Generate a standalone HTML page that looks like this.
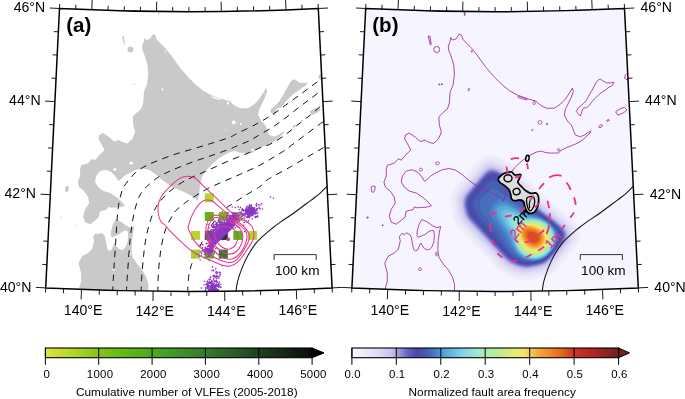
<!DOCTYPE html>
<html lang="en"><head><meta charset="utf-8"><title>Figure</title>
<style>html,body{margin:0;padding:0;background:#fff}svg{display:block}</style></head>
<body>
<svg width="685" height="399" viewBox="0 0 685 399" font-family="'Liberation Sans', Arial, Helvetica, sans-serif">
<defs>
<clipPath id="cl"><path d="M59.5 8.5 A2622.3 2622.3 0 0 0 318.3 8.5 L332.1 287.9 A2902 2902 0 0 1 45.7 287.9 Z"/></clipPath>
<clipPath id="cr"><path d="M365.7 8.5 A2622.3 2622.3 0 0 0 624.5 8.5 L638.3 287.9 A2902 2902 0 0 1 351.9 287.9 Z"/></clipPath>

<linearGradient id="g1" x1="0" x2="1" y1="0" y2="0">
<stop offset="0" stop-color="#dde340"/><stop offset="0.1" stop-color="#b4d62a"/><stop offset="0.2" stop-color="#84c516"/>
<stop offset="0.3" stop-color="#5fb912"/><stop offset="0.4" stop-color="#4aab1c"/><stop offset="0.5" stop-color="#3f932a"/>
<stop offset="0.6" stop-color="#367a2c"/><stop offset="0.7" stop-color="#2c5f28"/><stop offset="0.8" stop-color="#213f1f"/>
<stop offset="0.9" stop-color="#162516"/><stop offset="1" stop-color="#0a0d0a"/>
</linearGradient>
<linearGradient id="g2" x1="0" x2="1" y1="0" y2="0">
<stop offset="0" stop-color="#faf8ff"/>
<stop offset="0.0833" stop-color="#e4e0f7"/>
<stop offset="0.15" stop-color="#c6c2ed"/>
<stop offset="0.1833" stop-color="#8e8ed5"/>
<stop offset="0.2083" stop-color="#6666c0"/>
<stop offset="0.2417" stop-color="#4848a8"/>
<stop offset="0.2667" stop-color="#4652ae"/>
<stop offset="0.3" stop-color="#486ebe"/>
<stop offset="0.3333" stop-color="#4e96d0"/>
<stop offset="0.3667" stop-color="#60b4de"/>
<stop offset="0.4167" stop-color="#84d4e6"/>
<stop offset="0.4667" stop-color="#9ee6d4"/>
<stop offset="0.5" stop-color="#a8ecb4"/>
<stop offset="0.55" stop-color="#beec8c"/>
<stop offset="0.6" stop-color="#deec78"/>
<stop offset="0.6417" stop-color="#f5e870"/>
<stop offset="0.6667" stop-color="#f5ce54"/>
<stop offset="0.7" stop-color="#f3aa38"/>
<stop offset="0.75" stop-color="#f08228"/>
<stop offset="0.8" stop-color="#e15a22"/>
<stop offset="0.8333" stop-color="#cd3322"/>
<stop offset="0.9167" stop-color="#a62424"/>
<stop offset="1" stop-color="#6f2222"/>
</linearGradient>

</defs>
<rect width="685" height="399" fill="#fff"/>
<g clip-path="url(#cl)">
<path d="M153.2 34 L155.2 35 L156.8 39.4 L160.2 43.1 L165.2 48.1 L170.2 54.1 L175.2 61.1 L180.3 68.1 L187.3 76.2 L195.3 84.2 L203.3 90.8 L211.4 95.2 L221.4 98.8 L230.1 101.2 L234.1 105.2 L240.1 108.2 L248.1 108.2 L254.2 104.2 L259.2 99.1 L263.2 93.1 L266.2 88.1 L267.2 91.1 L265.2 97.1 L262.2 103.2 L259.2 109.2 L258.2 115 L261.2 121 L265.2 125 L267.2 130.1 L269.2 135.1 L274.3 136.8 L278.5 134.8 L282 132.4 L284.6 130.9 L283.8 133 L280 136.7 L276.5 139.8 L273.8 141.8 L269.2 144.1 L264.2 146.1 L259.2 148.1 L255.2 150.1 L252.2 153.1 L248.3 153 L244.2 153.1 L239.1 152.5 L235.1 151.1 L230.1 152.1 L224.1 155.1 L218.1 159.1 L213.1 163.2 L209.1 167.2 L205 172 L202 177 L200.5 182 L199.7 188 L199.1 195 L197.5 201.2 L196.1 199.1 L190.1 195.1 L182.1 191.1 L172.1 187.1 L162.3 180.1 L155.3 174.1 L149.3 170.1 L143.2 168.5 L136.2 169.7 L129.2 173.1 L124.2 176.1 L120.2 180.1 L118.2 181.1 L115.2 176.1 L111.2 172.1 L106.1 169.7 L100.1 171.1 L96.1 176.1 L95.1 182.1 L98.1 187.1 L103.1 191.1 L110.2 193.1 L116.2 197.1 L121.2 201.2 L125.2 205.8 L120.2 207.2 L115.2 207.4 L111 207.8 L108.2 207 L106.6 209.8 L103 210.4 L99.8 211.4 L98.8 217.2 L95 220.4 L90.1 224.2 L85.1 222.2 L83.1 216.2 L85.1 209.2 L89.1 203.2 L88.1 197.1 L84.1 191.1 L79.1 187.1 L77.7 182.1 L80.1 176.1 L80.1 169.1 L81.1 165.2 L88.1 163.2 L92.1 158.8 L95.1 160.2 L99.1 155.2 L104.5 150.2 L102.1 145.2 L98.5 139.1 L99.1 135.1 L103.1 133.1 L109.1 137.1 L114.2 141.5 L119.2 140.1 L122.2 142.1 L127.2 143.5 L132.2 139.1 L135.2 132.1 L133.2 125.1 L132.6 117.1 L136.2 113.1 L141.2 109 L143.2 103 L143.7 95 L144.1 91.2 L146.8 85.2 L148.2 75.2 L147.6 65.1 L145.2 57.1 L142.5 50.1 L142.1 46.1 L143.7 42.1 L144.7 37.4 L146.2 40 L149.6 39 L151.8 36ZM79.1 294 L79.1 288.2 L81.1 281.2 L81.1 273.2 L78.5 263.1 L82.1 256.1 L88.1 253.1 L92.1 249.1 L94.1 241.1 L93.1 236.5 L95.7 233.3 L98 234.6 L100 232.7 L103.8 234.6 L105.1 237.1 L105.7 240.8 L106.6 245.8 L107.6 249.6 L109.4 251.1 L111.6 249.8 L112.8 246.5 L114.4 243 L116.1 245.6 L118.2 248.6 L120.7 249.8 L123.2 249.6 L125.7 247.1 L127.6 242.1 L128.2 235.8 L127.6 231 L125.7 230.3 L122.6 231.5 L119.5 234.1 L115.7 235.9 L111.9 237.2 L110.7 235.8 L111.1 230.8 L112.8 224.5 L115.7 219.5 L121.3 222 L126.4 225.8 L130.7 227.7 L134.5 226.4 L133.2 232 L132 240.8 L131.6 249.6 L132.6 257.1 L137.2 264.1 L142.3 270.2 L146.3 277.2 L148.3 284.2 L148.3 294ZM307.6 82.1 L306 85.6 L302.8 87.2 L299.4 89.9 L296 92 L292.5 94.8 L289.1 98.2 L285.6 101.6 L283.4 105 L280.6 107.8 L277.6 107.8 L276.3 109.8 L275.2 113 L274.2 116 L272.3 114 L270.2 111.6 L271.5 108.6 L275.5 105.2 L279.6 101 L282.4 96.2 L285.1 91.4 L287.9 86.5 L290 82.4 L292.2 79.9 L294.3 79.2 L296.6 80.8 L300.5 82.9 L304.6 82.9ZM60.7 217 L61.9 217 L61.9 218.1 L60.7 218.1ZM75.9 224.9 L76.9 224.9 L76.9 225.8 L75.9 225.8ZM292.5 126.5 L294.5 124.8 L296.3 125.2 L295 127.3 L293 127.8ZM300.3 120.6 L302.2 119.4 L303.2 120.2 L301.3 121.3ZM122 36 L123.7 36 L125.1 44.5 L124.1 44.9ZM309.5 111.8 L313 109.3 L318 107.2 L320.8 110 L317.5 112.6 L311.8 115.2ZM318.2 78 L319.5 74.5 L321.5 73.5 L322.5 77 L321 80ZM65 187 L67 186 L69 186.5 L68.5 190 L67 192.5 L65.3 191.5ZM158 12.3 L158.9 12.6 L158.8 15.2 L158.2 15.6ZM132.6 84 L133.6 84 L133.6 84.9 L132.6 84.9ZM135.2 83.8 L136.3 83.8 L136.3 84.7 L135.2 84.7Z" fill="#c9c9c9" stroke="none" stroke-width="0" stroke-linejoin="round"/>
<circle cx="130.5" cy="49.5" r="3.0" fill="#c9c9c9" stroke="none" stroke-width="0"/>
<ellipse cx="165.6" cy="51.4" rx="0.6" ry="1.0" fill="#fff" stroke="none" stroke-width="0"/>
<ellipse cx="233.7" cy="122.4" rx="2.0" ry="1.8" fill="#fff" stroke="none" stroke-width="0"/>
<ellipse cx="240.8" cy="124" rx="0.9" ry="0.9" fill="#fff" stroke="none" stroke-width="0"/>
<ellipse cx="226.1" cy="130" rx="0.7" ry="0.6" fill="#fff" stroke="none" stroke-width="0"/>
<ellipse cx="131.2" cy="163.2" rx="2.0" ry="1.4" fill="#fff" stroke="none" stroke-width="0"/>
<ellipse cx="114.8" cy="169.6" rx="1.5" ry="1.5" fill="#fff" stroke="none" stroke-width="0"/>
<ellipse cx="113.8" cy="269.2" rx="1.4" ry="1.4" fill="#fff" stroke="none" stroke-width="0"/>
<ellipse cx="130.2" cy="254.1" rx="0.7" ry="2.2" fill="#fff" stroke="none" stroke-width="0"/>
<ellipse cx="162.6" cy="89.6" rx="0.8" ry="1.3" fill="#fff" stroke="none" stroke-width="0"/>
<ellipse cx="252.5" cy="149.8" rx="1.3" ry="1.2" fill="#fff" stroke="none" stroke-width="0"/>
<ellipse cx="228" cy="103" rx="1.2" ry="1.6" fill="#fff" stroke="none" stroke-width="0"/>
<path d="M212 96.3 L216 97.6 L221 99 L220.5 100 L215 98.7 L211.5 97.3Z" fill="#fff" stroke="none" stroke-width="0"/>
<path d="M112.6 293C112.7 290.7 113 284.4 113.3 279.3C113.6 274.2 113.9 268.2 114.3 262.2C114.7 256.2 115.2 249.4 115.6 243.1C116 236.8 116.4 229.8 116.8 224.1C117.2 218.4 117.6 213 118.1 208.8C118.6 204.6 119.1 202.2 119.8 199C120.5 195.8 121.5 192.1 122.5 189.5C123.5 186.9 124.8 185.3 126 183.5C127.2 181.7 128.4 180.4 130 178.6C131.6 176.8 133.5 174.3 135.7 172.4C137.9 170.5 140.1 169 143.3 167.2C146.5 165.4 150 163.8 154.8 161.8C159.6 159.8 165.9 157.4 171.9 155.3C177.9 153.2 184.6 151.4 191 149.5C197.4 147.6 203.8 145.7 210.1 143.7C216.4 141.7 224.4 139.4 229.1 137.6C233.8 135.8 233.4 135.3 238.1 133C242.8 130.7 251.5 126.7 257.2 123.6C262.9 120.5 267.6 117.7 272.4 114.6C277.2 111.5 281.4 108.2 285.8 105C290.2 101.8 295 98.3 299.1 95.3C303.2 92.3 307 89.5 310.6 86.8C314.2 84.1 318.3 81.3 321 79.3C323.7 77.3 326 75.7 327 75" fill="none" stroke="#111" stroke-width="1" stroke-dasharray="6.5 5.5"/>
<path d="M126.4 293C126.5 290.7 126.7 285.1 127.1 279.3C127.5 273.5 128.1 265.1 128.6 258.4C129.1 251.7 129.5 245.3 130.1 239.3C130.7 233.3 131.5 227.4 132.4 222.2C133.3 217 134.1 212.3 135.3 207.9C136.5 203.5 138.1 199 139.5 196C140.9 193 142.1 191.8 143.5 190C144.9 188.2 145.6 187.5 148.1 185.3C150.6 183.1 154.6 179.4 158.6 176.9C162.6 174.4 166.5 172.7 171.9 170.3C177.3 167.9 184.6 165 191 162.6C197.4 160.2 203.8 158.2 210.1 156C216.4 153.8 224.4 151.1 229.1 149.3C233.8 147.5 234.9 146.7 238.1 145.4C241.3 144.1 245 142.8 248.2 141.3C251.4 139.8 253.2 138.5 257.2 136.2C261.2 133.8 267.6 130.3 272.4 127.2C277.2 124.1 281.4 121 285.8 117.7C290.2 114.4 295 110.4 299.1 107.2C303.2 104 306.8 101.5 310.6 98.6C314.4 95.7 319.1 92.2 322 90C324.9 87.8 327 86.2 328 85.5" fill="none" stroke="#111" stroke-width="1" stroke-dasharray="6.5 5.5"/>
<path d="M141.2 293C141.3 290.7 141.2 285.4 141.6 279.3C142 273.2 142.8 263.5 143.5 256.5C144.2 249.5 145 243.1 146.1 237.4C147.2 231.7 148.5 226.8 149.9 222.2C151.3 217.6 152.7 213.6 154.5 210C156.3 206.4 157.9 203.9 160.5 200.8C163.1 197.7 166.5 194.2 170 191.2C173.5 188.2 177.4 185.2 181.5 182.7C185.6 180.2 190 178.2 194.8 176C199.6 173.8 204.4 171.9 210.1 169.3C215.8 166.8 222.8 163.4 229.1 160.7C235.4 158 243 155.2 248.2 153.1C253.3 150.9 256.3 149.3 260 147.8C263.7 146.3 266.5 146 270.5 144C274.5 142 279.4 138.9 283.9 135.8C288.3 132.7 292.8 128.8 297.2 125.3C301.6 121.8 306.3 118.3 310.6 114.8C314.9 111.3 319.9 106.8 323 104.3C326.1 101.8 328 100.3 329 99.5" fill="none" stroke="#111" stroke-width="1" stroke-dasharray="6.5 5.5"/>
<path d="M158 293C158 290.7 157.8 284.8 158.1 279.3C158.3 273.9 158.8 266.3 159.5 260.3C160.2 254.3 160.9 248.3 162 243.1C163.1 237.8 164.1 233.4 165.8 228.8C167.5 224.2 170.5 218.7 172.4 215.5C174.3 212.3 174.8 211.6 177 209.5C179.2 207.4 182 205.1 185.3 202.7C188.6 200.3 192.6 197.6 196.7 195C200.8 192.4 205.3 189.8 210.1 187.4C214.9 185 220.2 182.9 225.3 180.7C230.4 178.5 234.6 176.8 240.6 174.1C246.6 171.4 254.2 168.2 261.1 164.5C268 160.8 277 155.2 282.1 152C287.2 148.8 288 147.9 291.5 145.3C295 142.8 299.1 139.6 302.9 136.7C306.7 133.8 310.9 130.7 314.4 128.1C317.9 125.5 321.5 122.9 323.9 121.1C326.3 119.3 328.1 118.1 329 117.5" fill="none" stroke="#111" stroke-width="1" stroke-dasharray="6.5 5.5"/>
<path d="M187.6 293C187.8 290.4 188.1 281.6 188.6 277.4C189.1 273.2 189.7 270.8 190.5 267.9C191.3 265 191.8 263.9 193.4 260.3C195 256.7 197.1 251.7 200 246C202.9 240.3 207.1 231.9 211 226C214.9 220.1 219.8 214 223.4 210.3C227.1 206.6 229.4 206 232.9 203.6C236.4 201.2 239.9 198.8 244.4 196C248.9 193.2 256.1 189.3 260 186.5C263.9 183.7 263.2 182.5 268.1 179.3C273 176.2 282.2 171.6 289.2 167.6C296.2 163.6 304.3 158.7 310.2 155.3C316.1 151.9 321 149.1 324.3 147.2C327.6 145.3 329.1 144.5 330 144" fill="none" stroke="#111" stroke-width="1" stroke-dasharray="6.5 5.5"/>
<path d="M235.6 294C235.7 293.5 235.7 293.1 236 291C236.3 288.9 236.7 285 237.7 281.2C238.7 277.4 240.2 272.7 241.9 268.4C243.6 264.1 245.6 259.7 247.9 255.6C250.2 251.5 252.9 247.1 255.6 243.7C258.3 240.3 261.3 237.8 264.1 235.2C266.9 232.6 269.8 230.3 272.6 228C275.4 225.7 277.6 224.1 281.1 221.6C284.7 219.1 288.9 216.6 293.9 213C298.9 209.4 306.6 203.5 310.9 200.3C315.1 197.1 316.7 196.2 319.4 193.9C322.1 191.6 325.2 188.2 327.1 186.2C329 184.2 330.4 182.7 331 182" fill="none" stroke="#111" stroke-width="1.05"/>
<rect x="204.8" y="193.3" width="9" height="9" fill="#b7d433"/>
<rect x="204.8" y="212" width="9" height="9" fill="#5db511"/>
<rect x="218.8" y="212" width="9" height="9" fill="#6fbd12"/>
<rect x="233.3" y="212" width="9" height="9" fill="#b2d232"/>
<rect x="191" y="230.9" width="9" height="9" fill="#b7d433"/>
<rect x="204.8" y="230.9" width="9" height="9" fill="#2f6e2a"/>
<rect x="218.8" y="230.9" width="9" height="9" fill="#1d3a20"/>
<rect x="233.3" y="230.9" width="9" height="9" fill="#5db511"/>
<rect x="247.9" y="230.9" width="9" height="9" fill="#b7d433"/>
<rect x="191" y="249.6" width="9" height="9" fill="#a8d02e"/>
<rect x="204.8" y="249.6" width="9" height="9" fill="#5db511"/>
<rect x="218.8" y="249.6" width="9" height="9" fill="#2f7a2a"/>
<path d="M220 235.7h0M220.9 236.3h0M217.7 240.1h0M227.3 229.4h0M227.6 230.5h0M224.6 233.8h0M212.8 242.4h0M223.9 232h0M210.6 240.3h0M217 238.9h0M224.7 234.8h0M223.4 231.4h0M223.3 233.4h0M213.3 232.7h0M221.5 229h0M217.3 236.5h0M221.1 237.7h0M225.5 232.4h0M217.3 234.8h0M215.9 234.1h0M218.2 239.4h0M219.7 228.4h0M218.5 231h0M212.2 245.4h0M219.6 233.7h0M225.6 233.9h0M212.7 240.2h0M223 229.4h0M229.2 228.1h0M218.9 230.7h0M224 231.1h0M216.1 233.6h0M216.3 239h0M222 222h0M215 242.6h0M228.4 227.2h0M207.7 239.5h0M222.3 231.8h0M213.8 237.9h0M228.3 230.6h0M222.9 233.6h0M229.8 227.2h0M223.8 231.8h0M210.4 238.9h0M226.1 229.7h0M211.7 244.4h0M220.6 225.1h0M218.4 233.3h0M210.4 236.3h0M225.5 233.2h0M222.4 232.3h0M219.5 231.3h0M218.3 238h0M228.5 231.4h0M215.2 236.9h0M229 227.6h0M215.8 242.6h0M221.4 236h0M226.4 225.6h0M224.8 225.3h0M216.9 237.7h0M225.7 227.6h0M224.5 234.3h0M221.8 233.4h0M221.3 236.2h0M226.2 233.7h0M225 230.5h0M232.6 225.9h0M219.7 237.1h0M219.6 232.8h0M220.1 236.6h0M226.6 221.3h0M216.6 240.9h0M224.4 233.6h0M218.6 235.9h0M222.7 233h0M234.7 223.8h0M220.1 238.8h0M221.9 237.3h0M208.2 248.4h0M223.9 226.9h0M219.3 233h0M221.9 226.3h0M213.8 243.8h0M219.1 235.6h0M218.5 220.4h0M223.2 225.4h0M221 227.2h0M219.6 230.8h0M221.8 236.5h0M226.8 232.1h0M216.9 230.7h0M227.5 230.3h0M234.5 220.4h0M226.9 231h0M221.2 233h0M221.9 232.8h0M209.7 237.8h0M222.7 229.6h0M212.4 235.5h0M226.8 227.4h0M227.1 225.6h0M218.9 231.9h0M221 226.4h0M212.7 234.5h0M227.6 231h0M209.9 242.5h0M220.5 234.5h0M223.7 232.9h0M226.9 225.1h0M223.3 225h0M229.9 228.8h0M215.6 236h0M223.4 235.4h0M229.5 228.6h0M210.7 246.6h0M211.9 243.4h0M222.5 232.5h0M220 233.2h0M218.6 230.7h0M219 232.6h0M224.6 222.8h0M216.5 236.2h0M211.2 242.8h0M210.8 243.3h0M217 242.4h0M222.2 237.3h0M219.4 238.4h0M232.2 227.7h0M222.1 229.9h0M217.4 232.4h0M216.3 234.8h0M213.5 242.9h0M225.3 228.4h0M220.2 233.2h0M219.6 230.9h0M212.9 241.5h0M225.8 229.8h0M215.7 237.7h0M215.1 243.4h0M215.9 240.7h0M210.5 247h0M212.5 231.7h0M225.9 231.9h0M209.9 245.1h0M223 233.2h0M224.3 229.7h0M225.4 232h0M227.5 227.4h0M217.5 225.9h0M222.8 226.9h0M220 236h0M229 222.8h0M216.3 224.4h0M215.9 238.2h0M232.5 227h0M222.6 230.1h0M218.3 240.5h0M221.6 231.7h0M222.4 235.9h0M216.7 240h0M227.4 231.8h0M215.7 237.2h0M234.1 220.8h0M216.5 222.9h0M224.6 231.6h0M230.7 227.2h0M220.9 234.7h0M211 243.3h0M222.2 232.1h0M223 222.8h0M213.6 240.6h0M224.1 234.4h0M217.5 234.5h0M231.5 223.7h0M212 236.8h0M229.5 225.8h0M230.6 225.7h0M217.9 239.7h0M210.5 245h0M221 234.7h0M219.1 239.5h0M224.2 232.8h0M225.7 232.6h0M218.6 234.9h0M220.3 232.9h0M220.1 239.5h0M222.1 236.4h0M222.6 235.8h0M217.7 232.1h0M221.3 230.2h0M224.8 233.6h0M221.8 230.4h0M213.4 245.4h0M215.7 238h0M207.6 231.1h0M211.9 235.1h0M216.1 232.8h0M217.4 238.1h0M225.1 233.4h0M228.1 226.5h0M220.9 234.2h0M229.3 226.1h0M224.3 227.2h0M219.7 234.3h0M217.7 233.6h0M222.8 229.9h0M212.4 227.2h0M228.7 229.6h0M213.7 225.5h0M218.2 234.6h0M228.2 231.7h0M216.6 241.4h0M220.7 230.2h0M227.2 232.6h0M225.5 230.2h0M224.1 235.3h0M219.4 234.9h0M215.5 239h0M217.7 230.5h0M213.3 230.5h0M217.6 237.5h0M225.9 233.6h0M216.6 231.9h0M231.3 226.3h0M225.4 227.7h0M215.3 230h0M223.6 228.9h0M213.5 245.5h0M219.7 226.3h0M211.5 242.6h0M214.7 233.9h0M222.5 235.3h0M223.8 230.6h0M226.4 224.5h0M214.7 240.8h0M213.8 237.3h0M222.8 236.9h0M219.6 227.7h0M216.9 242.4h0M221.1 236.2h0M220 233.7h0M225.5 231.7h0M220.2 234.2h0M211.9 226.3h0M218.2 241.1h0M214.9 243h0M218.7 230.2h0M220.8 236.4h0M223.3 231.8h0M219.8 233.2h0M222.3 236.9h0M225.9 231.8h0M214.4 234.5h0M218.5 235.3h0M217.2 241.4h0M220.4 238.4h0M224.3 232.3h0M234.2 224.4h0M228.4 230.7h0M219.8 221.5h0M218.5 239.1h0M217.3 224.1h0M220 229.8h0M223.5 229h0M225.3 233.4h0M221.7 229.7h0M225.3 226.7h0M216.4 226.7h0M222.1 237.5h0M229.1 230.8h0M218.2 239.4h0M223.5 230.8h0M212.6 233.1h0M231.6 228.3h0M223 233.5h0M227.7 226.8h0M224.8 231.3h0M217 236.9h0M230 230h0M216.7 236.5h0M221.8 235.5h0M226.6 224.6h0M211.8 229.8h0M220.3 233.3h0M219.8 239.5h0M210.2 240.5h0M225.5 225h0M209.4 237.2h0M227.5 229h0M221.8 235.5h0M218.5 232.7h0M217.9 230.6h0M221.7 235.6h0M224.8 233.3h0M218.1 240.2h0M214.8 232.5h0M226.7 232.3h0M218.2 235.9h0M217.2 239.6h0M222.8 233h0M218.1 225.2h0M219.7 239.9h0M233 218.4h0M220 238.3h0M222.5 234.1h0M220.7 236.2h0M220.6 233.1h0M211.6 243.4h0M219.3 232.3h0M215.6 239h0M217.5 237.1h0M225.9 231.7h0M225.5 233.6h0M216 243.2h0M223.5 232.2h0M219.9 233.9h0M216.4 238.2h0M231.4 226.1h0M223.4 235.2h0M229.9 227.8h0M225.2 229.4h0M223.2 236.5h0M210.9 241.5h0M221.1 225.1h0M226.5 232.4h0M224.1 232.9h0M214.9 242.9h0M228.6 227h0M212.8 235.9h0M215.8 241h0M230.8 227.2h0M215.9 226.3h0M218 236.3h0M223.8 231.7h0M213.6 236.7h0M223.8 234.1h0M215.9 242h0M218.8 237.3h0M222.4 236.7h0M217.4 233.9h0M228.9 228.3h0M224.6 229.4h0M220.8 233.1h0M229.5 227.6h0M222.1 236.1h0M215.6 243.7h0M218.4 238.3h0M209.9 233.9h0M222.5 235.3h0M217.1 235.6h0M219.6 235.4h0M219.6 227.8h0M219.8 239.7h0M227 231.7h0M222.3 232.4h0M218.4 228.3h0M210.7 230.2h0M220 239.5h0M220.2 231.5h0M208.9 234h0M223.3 230.4h0M216.3 222.8h0M223.3 234.5h0M226.6 230.5h0M228.8 225.4h0M208.1 224.3h0M226 231.1h0M219.6 223.3h0M222.3 235.5h0M217.5 235.5h0M217.6 237h0M223.2 236.1h0M218.9 233.6h0M225.2 233.5h0M226.1 232.7h0M211.8 236.2h0M221.9 230.4h0M227.4 229.9h0M209.1 237.5h0M221.5 231.3h0M223.7 234.9h0M211.7 240h0M222.3 235.2h0M224.8 234.5h0M225.3 231.7h0M214.8 228h0M218.5 235.8h0M228.7 228.6h0M216.6 230.7h0M218.8 235.1h0M231.6 228.2h0M226.8 227.7h0M224 235.2h0M219.5 231.4h0M233.8 223.3h0M218.4 237.3h0M216 239.6h0M225.1 232.6h0M220 227.7h0M221.2 226.6h0M217.6 237.6h0M217.9 235h0M222.2 234.5h0M219.9 227.5h0M221.9 235h0M228.5 229.4h0M207.2 232.6h0M229.8 220.9h0M221.5 235h0M225.6 229.1h0M217.8 233.5h0M219.8 231.8h0M213.8 237.6h0M215.7 228.8h0M220.3 236h0M222.9 231.5h0M217.3 239.2h0M220.5 234.1h0M220.4 233.4h0M222.7 223.9h0M217.7 238.6h0M206.2 243.8h0M219.5 239.9h0M220.7 228.5h0M225.5 234.2h0M213.3 244.5h0M222.1 223.2h0M226.6 231.8h0M224 232.4h0M229 229.3h0M226.1 230.6h0M223.8 229.7h0M216 230h0M224.9 233.7h0M214.4 238.8h0M220.6 231.8h0M223.4 232.3h0M217.8 231.2h0M219.2 236.2h0M227.5 232h0M219.6 235.5h0M219.6 235.2h0M220.4 229.9h0M224.8 233.7h0M215.2 238.2h0M220.6 236.5h0M222.2 227.3h0M218.1 238.1h0M209.9 231.4h0M216.2 234h0M216.9 236.3h0M228.6 219.5h0M219.1 236.6h0M220.2 234.2h0M233.9 225.8h0M212.9 242.3h0M211.8 241.9h0M219.8 238.7h0M229.2 229.9h0M209.7 236.3h0M226.4 227.8h0M215.8 237h0M223.3 231.5h0M211 246.6h0M225 229.2h0M218.3 222.3h0M222.2 233.7h0M233.9 221.8h0M221.5 238h0M226.1 230.4h0M226.1 227.8h0M222.6 233.1h0M221.4 232.9h0M212.6 241.5h0M222.7 232.8h0M220.5 231.5h0M217.9 240.8h0M224 231.8h0M213.4 229.6h0M228.3 229.2h0M222.3 235.3h0M223 233.5h0M215.2 238.5h0M217.9 236.9h0M215 239.5h0M214.1 240.2h0M216.8 240h0M229.5 229h0M219.4 239.8h0M217.3 228.8h0M219.6 238.8h0M220.6 238.4h0M224 229.9h0M225.6 229.7h0M221.8 237.8h0M220.7 236.5h0M215.7 230.4h0M221.5 238h0M218.3 241.1h0M225.3 233.4h0M227.7 220.1h0M215.2 230.1h0M218 221h0M210.2 248.2h0M224.7 232.8h0M217.4 224.7h0M226.2 230.9h0M221.1 234h0M224.6 231.5h0M222.4 233.4h0M211.7 247.2h0M221.4 232.5h0M218.7 240.6h0M225.8 232.9h0M221.9 222.4h0M211.3 233.1h0M221.7 226.2h0M224.8 228.8h0M217.4 236.6h0M224.3 228.5h0M211.7 242.7h0M231.4 219.7h0M217 236.9h0M221.6 232.4h0M229.6 229.9h0M212.7 236.4h0M219.5 238.4h0M222 235.3h0M222.3 232.1h0M208.7 240h0M213.9 239.5h0M223 236.4h0M225.6 233.3h0M216.5 237.5h0M212.1 246.2h0M223.7 232h0M222 236.4h0M228 231.9h0M224.8 230.6h0M219.3 230.2h0M219 237.8h0M216.1 237.2h0M224.4 221.9h0M221.2 234.1h0M226.1 227.6h0M224.5 225.6h0M218.3 237.8h0M230.2 229.2h0M217.6 239.2h0M216.6 236.2h0M228.5 226.7h0M215 227.6h0M228 229.4h0M218.6 237.8h0M230 227.1h0M229.3 230h0M225.1 233.2h0M220.4 229.2h0M215.8 243.2h0M222.3 233h0M218.7 234.8h0M231.9 225.2h0M218.9 228.6h0M232.8 226.9h0M218.8 232.1h0M218.8 232.3h0M221.8 234.3h0M222.4 235.2h0M213.4 234.8h0M212.9 232.3h0M219.4 234.3h0M216.8 239.9h0M220.2 230.3h0M217.1 231.4h0M226.2 232.6h0M223.5 235.4h0M220.2 233.8h0M213.5 227.2h0M219.7 233h0M224.2 230.9h0M215.6 227h0M213.6 237h0M206.9 233.6h0M212.8 244.6h0M212.8 232h0M213.4 241.2h0M217.9 238.8h0M219.7 229.4h0M230.6 224.5h0M223.3 235.1h0M229 224.2h0M219.9 236.1h0M224.5 234.9h0M215.6 233.5h0M214.6 232.8h0M227.4 228.4h0M211.8 236.7h0M220.4 224.5h0M230.7 225.6h0M230.8 223.5h0M224.3 232.2h0M223.6 234.8h0M222.9 225.4h0M211.6 236.8h0M218.1 236.7h0M224.1 233.7h0M220.8 233.6h0M217.4 234.8h0M226.8 232.4h0M215.7 231.8h0M217.8 236.7h0M228.1 229.9h0M223.2 228h0M227.6 230.8h0M213.6 242.5h0M213.8 235.6h0M219.2 239.1h0M223.4 233.8h0M222.5 233h0M226.7 233.2h0M213.7 224.3h0M229 230.8h0M213.9 244.8h0M221.5 229.9h0M211.8 235.5h0M213.2 227.6h0M219.9 234.5h0M217.1 233.8h0M225.3 227.5h0M227.8 225.6h0M214 232.5h0M217.4 236.9h0M216.9 238.1h0M223.9 233.8h0M223.6 235.1h0M221.5 232.4h0M225.5 229.1h0M210.1 238h0M219.6 231.5h0M214.1 243.5h0M217.9 230.5h0M217.9 236.1h0M222.6 224.8h0M213.5 235h0M222.3 230.2h0M219.2 230.3h0M224.2 229.5h0M224.2 231.9h0M221.8 231.8h0M213.3 231.7h0M223.1 233h0M219.9 232.8h0M220 239h0M219.5 235.7h0M230.7 228.1h0M230.1 222.8h0M225 230.3h0M231.8 227.4h0M218.6 232.7h0M220.5 228.8h0M224.3 232.2h0M221.6 236.8h0M212 239.1h0M216.9 234h0M216.3 236.8h0M223.5 228.1h0M212.8 239.3h0M225.5 229.9h0M212.9 240.7h0M218.7 238.2h0M213.6 230h0M218.5 229.2h0M223.2 227.2h0M216.5 236.4h0M215.5 233.9h0M225.3 230h0M218.9 228.7h0M218.5 236.8h0M216.4 239.2h0M216.8 237.2h0M210 233.2h0M221.2 228.2h0M220.4 231.7h0M209.1 249.1h0M228.3 229.4h0M222.3 226h0M227.3 229.3h0M225.6 228.3h0M213.9 242.3h0M215.6 242.9h0M222.1 229.4h0M209.8 243.2h0M219.5 228.7h0M212.5 238.6h0M229.1 221.5h0M221.2 236.4h0M218.6 233.2h0M228.2 231.1h0M213.5 240.1h0M218.5 236.2h0M218.3 228.7h0M227.3 229.2h0M218.2 227.7h0M218.9 237.3h0M224.5 225.7h0M220.8 228.6h0M215.9 241.6h0M215.4 224.3h0M214.5 236.1h0M220.7 226h0M218.5 239.8h0M220.2 238.3h0M222.5 231h0M223.2 231.7h0M218.4 237h0M219.3 238.1h0M231.2 228.6h0M219.7 234.2h0M217.2 233.9h0M214.4 240.2h0M217.6 235.7h0M230.2 225.8h0M230.6 226.3h0M226.9 225.5h0M223.7 224.8h0M222.2 236.5h0M235.2 224.1h0M218.7 236h0M224.3 233h0M217.5 228.7h0M219.8 236.2h0M226.8 225.4h0M221.5 224.1h0M212.2 238.6h0M210.9 234h0M218.4 226.8h0M220.2 228.2h0M214.3 243.4h0M211.7 243.8h0M218.5 239h0M221.5 234h0M221.5 238.1h0M220.1 238.7h0M217.1 241.9h0M212.3 244.6h0M232.7 227h0M215.9 241.5h0M212 234.5h0M216.7 237.1h0M224.9 234.3h0M214.4 236.6h0M229.2 229h0M210.3 232.5h0M206.8 233.1h0M217.2 241.7h0M223.7 234.9h0M216.6 232.3h0M211.4 234.7h0M216.2 236.7h0M214 243.9h0M220.6 231h0M215.3 239.5h0M222.4 231.7h0M222.2 230.6h0M219.2 240.3h0M209.2 249.3h0M212.6 235.4h0M218.2 235.5h0M216.3 233.3h0M212.3 236.8h0M229.6 227.4h0M224.9 228.6h0M226.4 231.6h0M226.5 233.3h0M226.9 228.1h0M212.7 235.2h0M226.3 227.9h0M214.4 237.7h0M216.1 233.5h0M219.4 235.4h0M216.8 235.3h0M221.7 234.5h0M222.9 234.9h0M216.6 226h0M217.5 235.9h0M221.1 226.4h0M218.5 238.8h0M217.8 234.1h0M217.3 234.7h0M208.9 236.2h0M227.8 228.9h0M225.3 233.7h0M221 229.2h0M226 229.8h0M227.9 231.4h0M210.2 242.8h0M228.5 230.5h0M220.3 237.4h0M219 236.4h0M223.2 235.4h0M230.8 229h0M228.6 223h0M229.4 225.6h0M223.4 235.3h0M219.7 234.2h0M220.5 234.2h0M230.3 227.2h0M213.6 230.9h0M221.4 235.1h0M213.4 237.1h0M210.5 245.9h0M213 226.4h0M222.6 236.1h0M230.1 229h0M222.7 234.2h0M214.4 233.3h0M221.7 224.7h0M221.4 238.1h0M215.1 236.8h0M214 240.9h0M223.4 225.5h0M214.3 236.6h0M216.7 236.9h0M212.1 238.2h0M230.2 227h0M218.1 238.8h0M233.6 221.9h0M213.6 231.8h0M215.3 234.9h0M232.1 226.8h0M217.8 237.8h0M211.5 243.3h0M213.7 237.4h0M211.6 241.6h0M221.8 232h0M227.2 232.7h0M214.9 239.7h0M220.2 224.7h0M231.3 226.4h0M220 225.3h0M218.3 238.6h0M223.1 225.4h0M211 232.5h0M220.7 236.3h0M213.3 243.1h0M219.7 227.6h0M225.5 232.1h0M213.7 238.4h0M219.3 239.1h0M216.6 230h0M220.6 230.8h0M227.4 225.2h0M221 233.1h0M211.3 243h0M224.8 228.9h0M215.8 242.1h0M222.2 232.9h0M221.2 227.6h0M215.2 236.6h0M215.6 238.5h0M223.3 234.7h0M228.1 231.8h0M225.5 227.6h0M221.8 233.6h0M217.4 238h0M222.2 237.4h0M236.8 220.5h0M223.9 229.3h0M218.4 238.6h0M220.3 231.4h0M230.1 227.3h0M219.7 221.8h0M222.2 235.4h0M221.9 233.1h0M224.1 234.5h0M212 243.8h0M209.9 246.2h0M224.1 234.2h0M216.9 238.1h0M228.5 223.3h0M218 231.6h0M210.7 239.4h0M217.5 235.3h0M219.7 238.4h0M237 220.2h0M222.5 235.1h0M219.5 232.9h0M229.3 224.8h0M223.1 234.7h0M219.2 228.6h0M208.9 239.3h0M225.2 233.2h0M214.5 226.6h0M218.5 235.2h0M212.6 239.6h0M224.7 230.9h0M221.2 234.5h0M219.9 239.1h0M221.3 234.1h0M222.4 236.3h0M220.1 234.5h0M233.3 224.4h0M216.6 225.1h0M224.4 223.4h0M223.6 229.8h0M229.7 224.1h0M222.6 228h0M217.8 239.6h0M221.9 229.9h0M219.8 236.7h0M222.3 234.9h0M217.1 232.9h0M223.4 224h0M218.8 232.9h0M223 231.7h0M222.8 231.1h0M222.3 229.6h0M211.1 232.9h0M229.6 221.9h0M231.6 225h0M219.3 235.7h0M218.7 240h0M220.5 233.9h0M207.6 240.5h0M234.7 225.4h0M224.9 231.3h0M223.9 234.3h0M219.5 233.8h0M224.1 235.5h0M221.6 231.5h0M223.3 236.1h0M222.2 229.3h0M221.6 230.5h0M224.9 232.1h0M219.9 237.9h0M221 226.7h0M220 234.7h0M224.4 233.9h0M215.8 237.9h0M220.2 234.3h0M213.3 238.1h0M221.1 229.1h0M222.5 234.6h0M218.8 232.9h0M221.7 235.4h0M221.7 231.5h0M222.3 224.4h0M222.4 237.3h0M225.8 229.4h0M223.9 231.6h0M220.3 225.9h0M219.5 236.6h0M214.8 237h0M229.3 230.5h0M216 240.4h0M224.9 226.5h0M220.3 225.2h0M214.3 234h0M212.7 237.8h0M231 225.5h0M227.7 229.7h0M216.7 242h0M222.1 237.3h0M226.3 232.6h0M222.6 233.9h0M216.1 229.1h0M225.2 234h0M219.8 235h0M229.5 229.4h0M215.6 239.4h0M220.9 235.4h0M224.3 226.6h0M225.2 233.6h0M217.1 242h0M220.9 234.9h0M219.8 237.5h0M212.2 241.8h0M223.2 228.5h0M220.9 234.1h0M220.7 222.8h0M216.6 237.6h0M222.6 229.2h0M210.3 242h0M220.6 232.1h0M220.1 232.6h0M207.5 246.2h0M219 224.5h0M220.3 225.6h0M227.5 229.4h0M233.2 224.1h0M219.3 232.2h0M217.3 236.7h0M221.1 238h0M215.9 239.8h0M225.8 233.6h0M231.1 227.4h0M227.8 228h0M219.6 225h0M223.6 234.8h0M218.4 236.4h0M218.7 235.3h0M210.7 245.6h0M218.5 237h0M217.4 241.1h0M226.3 231.7h0M215.5 233.4h0M224.7 228.1h0M227.9 229.6h0M218.3 232.6h0M220 238.7h0M223.8 233.2h0M218.1 233.9h0M219.6 234.4h0M226.2 228.7h0M222.5 228.3h0M214.2 240.3h0M219.9 228.1h0M215.9 241.2h0M216.1 237.7h0M219.2 235h0M219.8 230.7h0M214.9 237.7h0M227.7 231.7h0M223.5 231.9h0M216.2 240.1h0M208.9 227.9h0M214.5 232.2h0M223.1 234.3h0M224 229.8h0M226.5 230.6h0M213.3 241.4h0M224.3 232h0M230.3 227.8h0M223 231h0M214.1 236h0M210.9 238.2h0M221.7 229.6h0M216.3 230.4h0M219.3 231.6h0M219.1 228.6h0M224.5 233.3h0M223.3 235.9h0M218.8 230.5h0M210.1 248.7h0M216.8 239.2h0M217.8 226.4h0M217.1 237.7h0M216.7 240.3h0M219.4 233.9h0M215.2 238h0M217.7 237.3h0M218.2 226.7h0M217.8 241.7h0M222 231.7h0M223.4 228.4h0M220.6 237.5h0M225.6 231h0M222.5 225h0M225.9 232.6h0M211 243.5h0M224.8 234.9h0M216 239.8h0M227.8 225.9h0M203.6 251.1h0M216.7 241.8h0M217.8 234.7h0M215 236.3h0M208.4 235.5h0M216.3 234.7h0M225.1 230.4h0M215.1 238.5h0M211.7 243.1h0M228 230h0M214.7 240.7h0M227.8 232h0M213.2 244.3h0M222.4 231.4h0M232 226.9h0M220.7 238.7h0M225.8 226.9h0M219.3 219.1h0M224.7 229.9h0M223 231.5h0M217 241.9h0M222.2 233h0M214.7 237h0M207.6 239.5h0M221.4 236.5h0M212.1 240h0M215 233.3h0M227.5 232.3h0M222.7 228.5h0M219.4 235.7h0M216.8 242.6h0M217 231.4h0M204.6 251h0M216.8 239.1h0M223.9 232.8h0M221.6 234.4h0M224.4 232.7h0M213.3 244.7h0M211.8 238.4h0M223.8 235.6h0M220.5 232.4h0M218.7 233.8h0M222.6 231.9h0M229.2 224.9h0M217.4 238.5h0M217.3 239.8h0M231.6 225.1h0M209.1 244h0M214.7 240.7h0M222.1 235.3h0M230.3 225.8h0M211.4 232.6h0M222 231.7h0M209.4 242.5h0M210.7 248.1h0M219.7 232.3h0M219.9 234.4h0M212.2 232.4h0M213.8 244.5h0M221 233.9h0M219.3 236.4h0M226.8 232h0M220.2 238h0M217.6 240.3h0M220.9 237.1h0M225 224.8h0M218.7 236.2h0M221.8 232h0M222.4 235.3h0M217.9 235.6h0M222.7 227h0M225 231.5h0M222.9 233.4h0M212.6 243.4h0M222.2 233.3h0M213.5 236h0M210 240.8h0M217.4 223.8h0M219.6 239.9h0M220.1 238.3h0M219.3 234.5h0M225.7 228.1h0M218.6 236.7h0M218.9 237.3h0M223.7 233.3h0M216.6 242.1h0M215.6 230.7h0M214 237.9h0M217.9 238.9h0M220.6 237h0M220.9 225.2h0M214.9 234.2h0M225.2 228.4h0M216 236.5h0M221.4 235.6h0M219.4 235.1h0M224.6 226.5h0M218.4 233.5h0M227 225.7h0M225.6 224h0M223.7 231.5h0M229.7 228.2h0M217.8 235.6h0M214 239.4h0M219.3 234.7h0M223 230.8h0M219.3 236.8h0M228.2 224.9h0M216.4 230.9h0M224.4 234.9h0M222.9 232.5h0M218.1 234.3h0M226.7 231.6h0M219.4 236.5h0M222.5 228.7h0M219.6 234.2h0M213.9 240.8h0M223 236.5h0M221.9 226.2h0M221.8 235.7h0M223.3 228.1h0M226.1 232.2h0M225.8 225.3h0M217.8 225.1h0M221.6 234.8h0M217.9 234.3h0M215.9 229h0M221.2 235.2h0M227 230.3h0M227.8 227.2h0M215.3 229.5h0M216.4 237h0M228.7 227.4h0M215.8 239.6h0M224.8 233.3h0M222.2 235.2h0M213.9 232h0M218 231.8h0M229.3 228.7h0M218.8 239.2h0M226.4 230.9h0M219 237.8h0M220.3 235.4h0M215.7 232.6h0M220.7 233.2h0M217.4 241.3h0M226.2 230.9h0M212.4 231.5h0M223.5 228.5h0M212.5 234.5h0M213.9 243h0M221.9 227.8h0M216.2 238.3h0M217 228h0M224.3 231.3h0M219.1 236.5h0M225.9 231.6h0M220.2 228.1h0M220.3 238.1h0M216.8 234.9h0M219.5 236.5h0M223.7 235.6h0M231.4 228.2h0M227.2 226.6h0M229.1 229.7h0M225 229.2h0M219.3 238.3h0M222.5 237h0M227 227.6h0M211.1 240.2h0M218.7 236.1h0M221.2 234.2h0M231.1 227.5h0M222.8 231.5h0M221.1 228.5h0M222.6 222.6h0M221.7 226.2h0M221.8 226.8h0M219.6 235.6h0M222.3 231.4h0M215.3 236.9h0M211.4 237.1h0M222.3 235.2h0M214.6 240.4h0M221.2 227.6h0M230.2 223.5h0M217.2 242h0M222.9 231.4h0M220.7 237.4h0M220 235.4h0M208.5 246.1h0M223.9 234.7h0M219.3 238.4h0M222.9 236.3h0M222.3 224.7h0M220.6 231.2h0M216.2 232.1h0M217.6 241.1h0M216.9 235.6h0M212.3 234.5h0M224.5 232.7h0M217.7 233.8h0M217.6 239.2h0M222.5 234.2h0M216.9 234.9h0M233.2 225.1h0M227.6 222.8h0M228.9 228.6h0M222.7 234.5h0M215.4 234.5h0M216.6 233.3h0M227.5 229.9h0M218.1 236.2h0M210.8 235h0M226.1 233h0M217.1 234.8h0M226.8 227.4h0M215 237.1h0M215.5 239.1h0M217.1 239.3h0M224.1 232.5h0M225.1 228.6h0M226 224h0M221.5 234.7h0M218.9 239.5h0M216.5 242.3h0M219.3 230.4h0M224.9 228.9h0M220.7 237.3h0M220.8 237.2h0M212.1 243.6h0M213.7 241.8h0M221.5 234.4h0M231.1 228.5h0M226.6 224.7h0M219.4 237.2h0M212.1 245.6h0M207.7 248.4h0M208 249h0M210.8 252.1h0M213.4 246.4h0M210.9 251.5h0M205.4 248.3h0M210.3 244.7h0M209.7 245.1h0M212.5 242.5h0M214.3 251.2h0M208.3 256.2h0M202.3 248.1h0M212.3 249.6h0M202.8 244.6h0M207.7 249.4h0M206.7 250.4h0M201.5 253.6h0M217.5 248.6h0M205.9 249.3h0M211.9 251.4h0M208.6 245.2h0M209.3 249.9h0M215.6 248.8h0M212.6 251.4h0M210.2 254.7h0M207.9 252.1h0M209.7 245.3h0M202.7 247.8h0M208.9 249.4h0M208.4 252.1h0M201.4 255.8h0M208.3 249.1h0M214.6 251.9h0M205.2 249h0M206.7 251.9h0M208.7 246.3h0M209.8 244.8h0M212.1 248.7h0M214.3 253.8h0M207.3 250.3h0M211.8 250.7h0M204.6 254.4h0M207.3 253.5h0M213.1 246.3h0M208.5 250.7h0M200.2 260h0M210.7 248.8h0M205.7 249.4h0M210.3 253.4h0M210.8 253.5h0M199.1 256.1h0M209.4 249.2h0M201.7 253h0M210.1 243.5h0M203.1 250.2h0M207.9 253h0M206.5 243.6h0M212.2 244.6h0M209.8 255.6h0M205.8 247.3h0M205 250.1h0M204.5 252h0M212.1 248.4h0M209.4 260.4h0M205.5 253h0M210.1 251.7h0M208.3 252h0M215.7 244.4h0M205.6 253.8h0M205.1 251.4h0M209.8 250.3h0M209.2 252.8h0M205.3 247.5h0M210.7 246.7h0M211.2 245.1h0M211 249.2h0M196.6 254h0M207.6 256.4h0M204.1 257.4h0M213.1 248.1h0M209.8 247h0M208.9 250.6h0M211.3 250.5h0M206.4 248.9h0M207.5 252.5h0M200.5 251.7h0M206 249.8h0M202.3 244.5h0M206.9 250.4h0M207.2 243.2h0M208.4 252h0M212.5 251.5h0M209.9 244.6h0M209.9 247.4h0M208.9 255.8h0M204.7 249.7h0M205.5 249.1h0M212.6 248.1h0M214 247.1h0M208.5 254.2h0M205.4 250.7h0M208 250.6h0M211.3 245.2h0M209.6 249h0M202.2 250.9h0M208.6 251.6h0M210.5 250.2h0M207.8 248.8h0M207.9 246.4h0M226.1 223.2h0M225.5 223.1h0M227.9 220.9h0M230 218.2h0M227.1 217.7h0M230.5 217.4h0M228.2 212.9h0M229 222.5h0M222.2 226.7h0M232 219.4h0M226.5 224.8h0M230.4 217.2h0M234.1 217h0M230.8 218.6h0M233.6 217.9h0M236.3 216.7h0M228.9 221.1h0M234.2 215.9h0M233.8 219.2h0M226.9 215.7h0M232.3 219.5h0M230.7 217.6h0M235.6 215.3h0M228.1 220.2h0M231 216.3h0M231.3 226.5h0M238 217.2h0M237.4 216.2h0M227.5 227.2h0M236.8 216.4h0M226.6 228.2h0M235.6 214.2h0M233.3 220.5h0M233 221.8h0M233 220.5h0M229.3 216.5h0M233.3 228.7h0M234.7 221h0M238.5 219h0M232.5 216.6h0M228.3 215.8h0M232.4 221.8h0M224 226.9h0M236.7 219.3h0M227.1 221.3h0M223 223.7h0M236.9 221.6h0M229.7 225.8h0M232.2 217.2h0M235.2 207.6h0M231.6 220.1h0M242.2 216h0M239.9 212.4h0M237.3 218.9h0M234 218.5h0M230.1 219.3h0M230.4 227.2h0M226.4 217h0M232.4 218.6h0M235.2 222.3h0M230.7 219.3h0M228.8 221.9h0M230.3 221.3h0M243.5 210.1h0M231.7 225.9h0M236 218.2h0M235.5 218.7h0M236.3 220h0M237.4 218.8h0M229.7 221.1h0M230.5 223.7h0M233.7 215.9h0M238.1 222.5h0M234.1 213.4h0M232.2 221h0M232 220.3h0M236.3 216.3h0M228.7 224.4h0M231.3 220h0M227.1 218.7h0M226.4 222.9h0M223 217.9h0M233.7 213.6h0M229.8 222.9h0M225.1 229.9h0M229.8 223.2h0M230.3 221.6h0M231.9 219.2h0M222.4 222.7h0M233.7 222.3h0M230.4 222.3h0M232.9 219.9h0M232.6 213.4h0M232.2 218.3h0M228.9 218.9h0M226.9 220.1h0M231.8 227.8h0M237.7 214h0M232.5 215.2h0M218.3 225.1h0M234.5 221.7h0M229.7 217.8h0M228.9 218.4h0M226.1 223.6h0M228.7 219.3h0M226.7 220.6h0M234.7 221.4h0M234.5 224.4h0M226.1 225.3h0M227 223h0M232.8 220.2h0M234.7 214.8h0M226.7 223.2h0M231.4 217.2h0M237.6 219.8h0M227 224.8h0M231.9 212.6h0M231.9 218.4h0M228.6 226.6h0M231.5 217.9h0M234.2 219.3h0M235.3 218.1h0M231 216h0M230.2 221.1h0M225.1 232.5h0M228.3 218.8h0M225.3 225.9h0M230.6 218.3h0M228.5 219.2h0M228.6 221.8h0M230.3 222.9h0M231.2 220.2h0M235.1 220.6h0M234.1 218h0M229.5 218.5h0M231.4 221.9h0M231.7 218h0M224.1 221h0M234.4 220.4h0M230.5 215.7h0M231.1 220.6h0M228.8 223.1h0M229.4 218.6h0M228.4 225.1h0M231.3 216.7h0M229.3 224.5h0M233.1 217h0M236.8 213.8h0M229.5 225h0M231.4 220.8h0M229.9 217.5h0M226.9 223h0M234.9 213h0M236.8 215.5h0M227.9 223.6h0M232 216h0M224.4 227.1h0M228.2 223.9h0M224.3 225.5h0M226.1 219.4h0M230.9 220.6h0M227.5 219.1h0M229.3 215.5h0M234.3 218.7h0M239.1 215.7h0M233.2 218.8h0M229.4 216.9h0M237.7 215.7h0M228.5 218.3h0M237.8 215.7h0M228.4 224.6h0M238.3 213.3h0M232.2 217.4h0M231 223.6h0M242.8 209.7h0M232.4 221.4h0M231.6 221.9h0M232.8 214.9h0M227.5 222.8h0M235 217.3h0M233.7 212.9h0M232.2 216.7h0M232.4 219.8h0M227.6 222.2h0M227.8 223.8h0M227.6 221.3h0M231.2 217.6h0M234.6 214.6h0M235 217.3h0M227.4 222.4h0M227.9 221.5h0M233.6 223.8h0M232.6 223.8h0M230.9 215.6h0M224.3 228.3h0M225.5 227.3h0M235.9 216.9h0M230.3 219.7h0M231.9 218.1h0M228.9 220.5h0M252.5 208.8h0M250.2 208.7h0M247.4 209.4h0M250.4 212.8h0M250.6 210h0M251.4 210h0M251.4 211.4h0M249.4 205.9h0M247.9 214.2h0M252.1 215.7h0M249.2 210.5h0M254.3 210.7h0M255.3 210.2h0M250.5 212.9h0M248 211.3h0M248.8 211.5h0M251.7 209.5h0M250.6 210h0M249.9 205h0M250 211.9h0M248.7 214.4h0M252 213.5h0M253.2 211.5h0M249 209.4h0M249.4 210.7h0M250.5 210.1h0M256.1 204.9h0M252.7 209.1h0M250.6 213.4h0M249.2 209h0M251.1 210.5h0M245.6 214h0M247.1 211h0M251.7 211.3h0M251.6 215.8h0M250.7 209.7h0M250.8 210.8h0M243.7 210.7h0M248.9 216.8h0M249.6 211h0M249.8 213.8h0M251.9 214.6h0M253.6 213.6h0M250.4 212.2h0M249.1 211.5h0M245.7 212.1h0M247.5 211.1h0M253.4 210.5h0M254 211.6h0M253.4 212.2h0M249.6 213.5h0M249.1 210.6h0M255.1 214.1h0M249.5 215.7h0M251.5 208.8h0M251.3 211.7h0M250.9 210.2h0M247.3 212.8h0M253 211.9h0M252.8 212.7h0M247.9 212.3h0M252 212.8h0M251.1 212.1h0M252.5 215.2h0M245.1 213.7h0M256.3 209h0M246.1 213.6h0M246.3 211.6h0M252.4 214.3h0M252 212.1h0M252.9 210.6h0M248.2 212.1h0M250.8 210.4h0M248.4 211.3h0M245.8 211h0M249.8 210.7h0M251.6 214h0M251 210.9h0M246.6 210.5h0M250.4 209.2h0M250.4 208.8h0M250.6 211h0M252.3 209.5h0M249.6 212.2h0M251.9 214.5h0M249.2 210.6h0M250 212.6h0M251.5 212.4h0M249.3 217.6h0M254.6 209.2h0M247.6 212.9h0M249.3 206.6h0M249 208.4h0M252.6 213.4h0M251.4 207.3h0M254.4 211.5h0M249.9 212.7h0M253.6 209h0M249.8 210.2h0M251.1 205.9h0M252.8 207.9h0M251 207.2h0M247.6 211.2h0M250.8 207.3h0M251.2 209.4h0M252.9 209.3h0M251.3 210.4h0M254.2 208.6h0M252 215.1h0M251.1 212.5h0M248.7 212.5h0M245.1 214h0M247.4 209.1h0M248 215h0M249.9 207.9h0M253.9 208h0M249.7 212.2h0M246.2 209.4h0M249.6 214.4h0M251.1 207.2h0M253.2 210h0M251.5 210.8h0M250.4 208.9h0M247.5 210.9h0M250 212.9h0M248.9 215.7h0M248.3 210.9h0M252.3 211.4h0M248.5 209.6h0M246.5 209.3h0M254 212.1h0M255.1 210.2h0M251.8 212.4h0M252.3 209.8h0M253.1 215h0M245.1 210.5h0M248.7 213.8h0M252.8 209.3h0M251.8 210.5h0M250.5 209.9h0M250.2 211.3h0M255 214.3h0M246.5 214.3h0M251.2 213.2h0M253.5 211.6h0M251.4 208.6h0M247.8 216.4h0M252.3 208.1h0M253.9 211.2h0M245.3 215.7h0M249 214.6h0M248 210.6h0M246.5 212.6h0M252.1 208.9h0M247.8 217.5h0M255.3 210.6h0M247.9 209.6h0M246.9 214.2h0M252.4 207.8h0M250.1 210.8h0M250.1 212.5h0M254.7 207.8h0M253.3 212.5h0M249.5 211.3h0M248.1 214.8h0M248.5 210.6h0M249.7 209.6h0M247.6 211.9h0M253.6 209.3h0M250.2 207.9h0M244.3 222.4h0M246.1 208.3h0M251 214.1h0M241 213.6h0M250.2 208.5h0M255.8 213h0M251.9 209.6h0M249.3 210.2h0M250.4 213.3h0M250.7 215.7h0M261.8 203.9h0M253.4 213.7h0M253.1 209.7h0M249.9 216.3h0M254.3 212h0M247.8 215.9h0M253.9 209.5h0M257.1 217.1h0M242.7 218.5h0M242.8 210.7h0M250.3 214.3h0M248.8 208.3h0M242.8 213.9h0M249.2 209.4h0M246.3 221.1h0M246.3 213.6h0M247 211.6h0M250.2 211h0M251.5 206.8h0M246.7 221.7h0M251.4 214.6h0M256.9 210.8h0M248.1 207.1h0M244.6 219h0M254.6 212.1h0M239.2 209.6h0M243.6 211h0M249.6 208.5h0M256.9 206.1h0M249.3 216.1h0M250.6 208.4h0M257.5 215.9h0M244.3 214.3h0M242.2 208.7h0M254.6 212.6h0M255.8 210.9h0M241 217h0M245.4 210h0M246.5 217.1h0M252.3 218.8h0M249.6 204.9h0M256.8 213.6h0M248.7 208.2h0M256.7 203.5h0M247 206.3h0M241.8 209.9h0M257.6 212.9h0M246.4 208.8h0M250.8 213.3h0M241.4 212.3h0M251.2 214.4h0M251.6 213.2h0M240.5 207.4h0M250.5 208.4h0M249.3 211.1h0M251.5 208.4h0M257.4 208.5h0M254 212.6h0M256.1 210.6h0M241.2 214.5h0M260.1 208.8h0M253.9 212h0M246.3 211.5h0M249.3 217.2h0M255.2 216.6h0M256 216.6h0M250.7 207.2h0M259.3 208.7h0M256.5 209.7h0M249.2 213.4h0M243.2 211.1h0M245.4 212.6h0M243.9 215.1h0M255.3 217.6h0M259.2 207.2h0M254.4 209.1h0M252.3 210.9h0M248 213.6h0M244.2 217.1h0M247.3 209.4h0M211.4 288.1h0M210.2 287.9h0M214.8 291.1h0M208.6 286.2h0M214.6 290.9h0M213.7 288.7h0M207.2 284.8h0M218.9 285.7h0M220.8 284.3h0M211.7 281.8h0M215.1 287.3h0M220.3 287h0M211.8 282.3h0M212.4 289.3h0M215.5 290.1h0M215.9 286.4h0M215 287h0M207.7 291.6h0M214.1 283.4h0M214.1 287.4h0M216.4 290.8h0M201.3 288.1h0M218.4 283.7h0M205.7 287.3h0M214 287.5h0M208.5 285.1h0M213.4 288.7h0M220.9 287.4h0M210.4 279.5h0M216.7 286.1h0M212.3 283.6h0M215.5 281.2h0M213.1 286.9h0M213.8 290.4h0M212.3 286.8h0M215.9 281.9h0M211.6 286.7h0M216.3 284.1h0M215.7 287.6h0M207.1 282.1h0M207.3 286.9h0M213.5 288.7h0M215.8 284.9h0M216.7 288.9h0M214.5 287.9h0M207.8 287.6h0M208.8 282.9h0M211.4 286.9h0M212.5 285.5h0M208.9 287.1h0M209.9 282.3h0M213.1 290.8h0M211.2 283.3h0M217.9 291.6h0M211.6 285.9h0M213.5 295.3h0M213.2 289.5h0M214.4 281.1h0M208.5 282.8h0M214.3 286.8h0M219.5 285.7h0M213.9 286.7h0M213.2 293.4h0M213.8 290.9h0M217.6 284.7h0M215.3 285.4h0M213.1 287h0M212.8 285.1h0M218.6 285.7h0M215.4 291.5h0M215.1 289.6h0M218 289.8h0M219.2 282.2h0M220.1 286.6h0M206.1 284.6h0M207.4 286.4h0M207.1 283.5h0M213.8 287h0M209.7 285.8h0M212.3 286.7h0M212.7 285.8h0M216 281.7h0M210.8 286.9h0M211.2 284.8h0M211 287.1h0M217.4 285.9h0M211.7 287.6h0M211.8 280.7h0M213.7 285.4h0M210.5 288.4h0M212.9 284.8h0M204.4 281.3h0M212.8 286.1h0M214.4 287.2h0M210.9 282.7h0M208.5 286.1h0M208.3 288.8h0M207.7 281.1h0M212 281.2h0M218.9 283.5h0M212.5 285.8h0M209.6 281.2h0M205.6 289.1h0M216.6 293h0M207.1 288.2h0M212.6 289h0M210.7 288.7h0M216.1 288.3h0M218.2 286h0M218.6 284.4h0M219 278.3h0M212.8 284.1h0M212.7 289.6h0M215.4 286.8h0M219.2 282.1h0M209.6 291h0M213.9 280.3h0M214 282.9h0M218.3 289.9h0M210.6 290.4h0M209.5 289.3h0M214.9 286.1h0M207.3 285.7h0M204 284.8h0M205.7 290.1h0M209 279.2h0M214.9 287.6h0M210.8 292.9h0M215.6 286.7h0M210.2 277.6h0M214.5 289.4h0M210.5 282.3h0M212.5 281.5h0M212.7 288.8h0M218.4 287.3h0M213.4 288.7h0M218 285.5h0M208 284.1h0M207.9 283.8h0M212.2 287.5h0M213.3 286.7h0M211.3 287.8h0M216.1 288.8h0M218.4 285.6h0M211.7 291.6h0M213.5 287.7h0M211.4 289.4h0M211.2 283.5h0M212.5 285.2h0M215.9 285.4h0M213.2 285.8h0M214 284.6h0M216.9 282.2h0M211.2 284.4h0M215.2 286.6h0M214.5 285.5h0M210 283.1h0M211.4 284.9h0M213.8 287.6h0M216.4 286.2h0M209.9 283.3h0M212.9 287.6h0M220.1 287h0M219.4 292.1h0M208.7 290.1h0M217 290.5h0M212.7 289.4h0M210.9 286.3h0M212.8 291.8h0M211.9 289.4h0M216.2 271.5h0M216.8 278.3h0M213.5 278.2h0M213.5 270.6h0M216.8 273.8h0M212.6 266.9h0M216.1 276.2h0M214.4 275.9h0M210.7 277h0M217.5 276.4h0M213.9 275.4h0M216.5 280.3h0M217 276.3h0M213.5 279.3h0M220.1 272.5h0M218.2 276.5h0M215.8 268.6h0M222.1 265.7h0M217.1 273.1h0M220 272.9h0M216.1 278.1h0M217.6 272.4h0M218.4 277h0M219.5 272.4h0M215.8 273h0M213.1 276.3h0M217.4 282.1h0M214.9 276.9h0M220 274.4h0M216.2 275.7h0M213.6 270.1h0M219.9 275.9h0M215.7 268.8h0M216.4 280.8h0M212 270.6h0M248.7 220.8h0M246.6 207.8h0M235.8 213.9h0M236.3 216.3h0M238.7 227.1h0M234.8 218.3h0M233.5 222.9h0M227.3 226.8h0M243.7 225.2h0M206.1 231.5h0M221.9 235.5h0M258.5 204.8h0M237.2 226.7h0M205.5 239.2h0M199.5 245.9h0M225 223.4h0M233.6 216.6h0M243.8 213.8h0M244.7 231.6h0M230.4 229.8h0M227.5 234.2h0M242.7 215.5h0M248 222.5h0M246.6 211.8h0M235.2 227.8h0M214.4 229.9h0M239.1 221.2h0M257.7 216.8h0M236.9 221.8h0M217.5 230.8h0M234 219h0M234.7 224.5h0M220 226.3h0M217.2 240.7h0M215.1 221.5h0M239.4 215.3h0M240.9 213.1h0M256.8 209.8h0M234 221.4h0M232.6 227.5h0M251.6 205.2h0M222.6 232.9h0M238.2 206.9h0M221.3 222.3h0M239.6 220.3h0M220.4 221.9h0M232.2 207h0M238.2 216.5h0M255.6 212.7h0M225 224.9h0M270.5 197h0M273.5 198h0M260 205h0M262.5 209h0" stroke="#8b35c4" stroke-width="1.6" stroke-linecap="round" fill="none"/>
<path d="M187.4 176.3C189.9 176.2 192.8 177 194.9 178C197 179 198 180.7 199.9 182.5C201.8 184.3 204.1 186.8 206.6 189.1C209.1 191.4 212.1 194 214.9 196.6C217.7 199.2 220.4 202.3 223.2 204.9C226 207.5 228.7 210.2 231.5 212.4C234.3 214.6 237.3 216.7 239.9 218.3C242.5 219.9 245.1 220.5 247 221.8C248.9 223.1 250.5 224.4 251.6 226C252.7 227.6 253.4 229.8 253.8 231.6C254.2 233.4 254 235 253.8 236.6C253.6 238.2 253.4 239.2 252.5 241C251.6 242.8 250 245.2 248.4 247.6C246.8 250 245.1 253 243.2 255.5C241.3 258 239.2 260.9 237 262.6C234.8 264.4 232.8 265.6 230.2 266C227.6 266.4 224.7 265.8 221.6 264.9C218.5 264 215.2 262.3 211.6 260.8C208 259.3 203.8 257.9 199.9 255.8C196 253.7 191.9 251.1 188.3 248.3C184.7 245.5 181.4 242 178.3 239.1C175.2 236.2 172.2 233.2 170 230.8C167.8 228.5 166.5 226.5 165 225C163.5 223.5 161.9 223.5 160.8 221.6C159.7 219.7 158.7 216.1 158.3 213.3C157.9 210.5 157.9 207.5 158.3 204.9C158.7 202.3 159.4 200 160.8 197.5C162.2 195 164.5 192.4 166.6 190C168.7 187.6 171.1 185.2 173.3 183.3C175.5 181.4 177.7 179.5 180 178.3C182.3 177.1 184.9 176.4 187.4 176.3Z" fill="none" stroke="#e6398d" stroke-width="1.05"/>
<path d="M204.9 200.3C206.8 199.9 209.4 199.9 211.6 200.8C213.8 201.7 216 204 218.2 205.8C220.4 207.6 222.7 209.7 224.9 211.6C227.1 213.5 229.2 215.6 231.5 217.4C233.8 219.2 236.5 220.9 238.6 222.4C240.7 223.9 242.5 225.1 244 226.6C245.5 228.1 246.7 229.9 247.6 231.6C248.5 233.2 249.5 234.7 249.6 236.5C249.7 238.3 249 240.2 248 242.5C247 244.8 245.2 248 243.6 250.6C242 253.2 240.1 256.1 238.2 258C236.3 259.9 234.5 261.8 232 262.3C229.5 262.8 226.3 262.1 223.2 261.2C220.1 260.3 216.5 258.7 213.2 256.8C209.9 254.9 206.4 252.5 203.3 250C200.2 247.5 197.1 244.5 194.9 241.6C192.7 238.7 191.1 234.9 189.9 232.5C188.7 230.1 188.2 228 187.9 227C187.6 226 187.8 228 188.3 226.6C188.8 225.2 189.7 221.1 190.8 218.3C191.9 215.5 193.4 212.4 194.9 209.9C196.4 207.4 198.2 204.9 199.9 203.3C201.6 201.7 203 200.7 204.9 200.3Z" fill="none" stroke="#e6398d" stroke-width="1.05"/>
<path d="M213.5 215.5C214.9 215 216.1 215 218 215.3C219.9 215.6 222.5 216.6 225 217.5C227.5 218.4 230.5 219.7 233 221C235.5 222.3 238 224 240 225.5C242 227 243.8 228.2 245 230C246.2 231.8 246.8 234 247 236C247.2 238 246.7 239.8 246 242C245.3 244.2 244.3 246.8 243 249C241.7 251.2 239.9 253.8 238 255.5C236.1 257.2 233.8 258.5 231.6 259C229.4 259.5 227.3 259.1 224.9 258.3C222.5 257.5 219.8 256.1 217.4 254C215 251.9 212.4 248.7 210.7 246C209 243.3 207.8 240.3 207 238C206.2 235.7 205.9 234.2 205.8 232C205.7 229.8 205.9 227.2 206.5 225C207.1 222.8 208.3 220.1 209.5 218.5C210.7 216.9 212.1 216 213.5 215.5Z" fill="none" stroke="#e6398d" stroke-width="1.05"/>
<path d="M215.4 217.6C217.1 217.3 219.7 217.9 222 218.5C224.3 219.1 226.7 219.9 229 221C231.3 222.1 234 223.5 236 225C238 226.5 239.9 228.1 241 230C242.1 231.9 242.8 234 242.8 236.5C242.8 239 242.1 242.5 241 245C239.9 247.5 238.3 250 236.5 251.5C234.7 253 232.4 254 230.2 254.1C227.9 254.2 225.4 253.3 223 252C220.6 250.7 217.7 248.5 215.5 246.5C213.3 244.5 211.3 242.2 210 240C208.7 237.8 207.9 235.5 207.7 233C207.5 230.5 208.3 227.2 209 225C209.7 222.8 210.9 221.2 212 220C213.1 218.8 213.7 217.8 215.4 217.6Z" fill="none" stroke="#e6398d" stroke-width="1.05"/>
<path d="M214.7 234.4C214.6 232.4 215.2 230.8 216.5 229.5C217.8 228.2 220.3 227.1 222.4 226.7C224.5 226.3 227 226.4 229 227C231 227.6 233 228.5 234.5 230C236 231.5 237.6 233.6 237.9 235.8C238.2 238 237.3 241.1 236.5 243C235.7 244.9 234.4 246.5 233 247.5C231.6 248.5 229.8 249.3 228 249.2C226.2 249.1 223.8 248.3 222 247C220.2 245.7 218.2 243.6 217 241.5C215.8 239.4 214.8 236.4 214.7 234.4Z" fill="none" stroke="#e6398d" stroke-width="1.05"/>
<circle cx="228.2" cy="239.2" r="1.9" fill="#e6398d"/>
<path d="M274.1 260.1V254.6H316.2V260.1" fill="none" stroke="#111" stroke-width="0.85"/><text x="297.2" y="275" font-size="13.6" text-anchor="middle">100 km</text>
</g>
<path d="M59.5 8.5 A2622.3 2622.3 0 0 0 318.3 8.5 L332.1 287.9 A2902 2902 0 0 1 45.7 287.9 Z" fill="none" stroke="#000" stroke-width="1.5" stroke-linejoin="miter"/>
<path d="M59.5 8.5 L59.7 3.9M45.7 287.9 L45.5 292.5M75.7 9.3 L75.9 4.7M63.6 288.7 L63.4 293.3M91.8 9.9 L92.2 0.1M81.5 289.5 L81.1 299.3M108 10.5 L108.2 5.9M99.4 290.1 L99.2 294.7M124.2 10.9 L124.3 6.3M117.3 290.6 L117.2 295.2M140.4 11.3 L140.5 6.7M135.2 291 L135.1 295.6M156.5 11.5 L156.7 1.7M153.1 291.2 L153 301M172.7 11.7 L172.7 7.1M171 291.4 L171 296M188.9 11.7 L188.9 7.1M188.9 291.4 L188.9 296M205.1 11.7 L205.1 7.1M206.8 291.4 L206.8 296M221.3 11.5 L221.1 1.7M224.7 291.2 L224.8 301M237.4 11.3 L237.3 6.7M242.6 291 L242.7 295.6M253.6 10.9 L253.5 6.3M260.5 290.6 L260.6 295.2M269.8 10.5 L269.6 5.9M278.4 290.1 L278.6 294.7M286 9.9 L285.6 0.1M296.3 289.5 L296.7 299.3M302.1 9.3 L301.9 4.7M314.2 288.7 L314.4 293.3M318.3 8.5 L318.1 3.9M332.1 287.9 L332.3 292.5M45.7 287.9 L35.9 287.4M332.1 287.9 L341.9 287.4M46.9 264.6 L42.3 264.4M330.9 264.6 L335.5 264.4M48 241.3 L43.4 241M329.8 241.3 L334.4 241M49.2 218 L44.6 217.7M328.6 218 L333.2 217.7M50.3 194.7 L40.5 194.2M327.5 194.7 L337.3 194.2M51.5 171.4 L46.9 171.1M326.3 171.4 L330.9 171.1M52.6 148.1 L48 147.9M325.2 148.1 L329.8 147.9M53.8 124.8 L49.2 124.6M324 124.8 L328.6 124.6M54.9 101.6 L45.1 101.1M322.9 101.6 L332.7 101.1M56.1 78.3 L51.5 78.1M321.7 78.3 L326.3 78.1M57.2 55 L52.6 54.8M320.6 55 L325.2 54.8M58.4 31.8 L53.8 31.6M319.4 31.8 L324 31.6M59.5 8.5 L49.7 8M318.3 8.5 L328.1 8" fill="none" stroke="#000" stroke-width="0.9"/>
<path d="M365.7 8.5 A2622.3 2622.3 0 0 0 624.5 8.5 L638.3 287.9 A2902 2902 0 0 1 351.9 287.9 Z" fill="#f6f4ff"/>
<g clip-path="url(#cr)">
<g><path d="M486.6 155 488 154.7 490 154.7 492 154.9 493 155.1 495 155.7 496 156 498 156.8 499 157.2 500.9 158 502 158.5 503.2 159 505 159.9 506 160.4 507.1 161 508.7 162 510 162.9 511 163.7 512 164.5 513 165.4 514 166.3 515 167.3 516 168.3 517 169.2 518 170.2 519 171.2 520 172.2 521 173.2 522 174.2 523 175.2 524 176.2 525 177.2 526 178.2 527 179.2 528 180.2 529 181.2 530 182.2 531 183.2 532 184.2 533 185.2 534 186.2 535 187.2 536 188.2 537 189.2 538 190.2 539 191.2 540 192.2 541 193.2 542 194.2 543 195.2 544 196.2 545 197.1 546 198.1 547 199 548.2 200 549.3 201 550.6 202 551.8 203 553 203.9 554 204.7 555 205.5 556 206.3 557 207.1 558.2 208 559.5 209 560.8 210 562 211 563 211.7 564 212.5 565 213.3 566 214.1 567.2 215 568.5 216 569.7 217 570.9 218 572 219 573 219.9 574 220.9 574.9 222 575.7 223 576.4 224 577 225.1 578 227 578.4 228 579 229.6 579.5 231 580 233 580.2 234 580.4 236 580.3 238 580 239.7 579.6 241 579 242.4 578.1 244 577.5 245 576.8 246 576 247 575 248.3 574 249.5 573 250.7 572 251.8 571 253 570.2 254 569.3 255 568.5 256 567.6 257 566.8 258 565.9 259 565 260 564 261.2 563 262.4 562 263.5 561 264.7 560 265.9 559 267 558.1 268 557.2 269 556.3 270 555.3 271 554.2 272 553 273 552 273.7 551 274.3 549.6 275 548 275.7 547 276 545 276.7 543.7 277 542 277.4 540 277.9 539 278.2 537 278.6 535.4 279 534 279.3 532 279.8 530.8 280 529 280.3 527 280.5 525 280.6 523 280.4 521 280.1 520 279.8 518 279.3 517 279 515 278.3 514 277.9 512 277.2 511 276.9 509 276.1 508 275.8 506.2 275 505 274.5 504 273.9 502.4 273 501 272 500 271.3 499 270.4 498 269.5 497 268.5 496 267.5 495 266.4 494 265.3 493 264.3 492 263.2 491 262.1 490 261.1 489 260 488.1 259 487.1 258 486.2 257 485.2 256 484.3 255 483.4 254 482.4 253 481.5 252 480.6 251 479.6 250 478.7 249 477.8 248 476.8 247 475.9 246 475 245 474 244 473 242.9 472 241.8 471 240.8 470 239.7 469 238.6 468 237.6 467 236.5 466 235.4 465 234.4 464 233.3 463 232.2 462 231.2 461 230.1 460 229 459.1 228 458.2 227 457.4 226 456.6 225 455.9 224 455 222.5 454.3 221 453.8 220 453.2 218 452.9 217 452.5 215 452.1 213 451.9 212 451.6 210 451.3 208 451 206 450.9 205 450.6 203 450.4 201 450.4 199 450.6 197 451 195.2 451.4 194 452 192.6 452.9 191 453.5 190 454.2 189 455 188 456 186.7 457 185.5 458 184.3 459 183.1 460 182 460.8 181 461.7 180 462.5 179 463.4 178 464.2 177 465.1 176 466 174.9 467 173.7 468 172.5 469 171.3 470 170.2 471 169 471.8 168 472.7 167 473.5 166 474.4 165 475.2 164 476.1 163 477 162 478 160.9 479 159.8 480 158.8 481 157.9 482.2 157 483.9 156 485 155.5 486.6 155Z" fill="#f0edfb"/>
<path d="M485.4 159 487 158.4 489 158 491 158.1 493 158.4 494.9 159 496 159.4 497.6 160 499 160.6 500 161 502 161.9 503 162.4 504.2 163 506 164 507 164.6 508 165.3 509 166.1 510.1 167 511.2 168 512.3 169 513.3 170 514.4 171 515.4 172 516.4 173 517.4 174 518.4 175 519.4 176 520.4 177 521.4 178 522.4 179 523.4 180 524.4 181 525.4 182 526.4 183 527.4 184 528.4 185 529.4 186 530.4 187 531.4 188 532.4 189 533.4 190 534.4 191 535.4 192 536.4 193 537.4 194 538.4 195 539.4 196 540.4 197 541.4 198 542.5 199 543.5 200 544.6 201 545.8 202 546.9 203 548 203.9 549 204.7 550 205.5 551 206.2 552 207 553.3 208 554.5 209 555.8 210 557 210.9 558 211.7 559 212.5 560 213.2 561 214 562.2 215 563.5 216 564.8 217 566 218 567 218.8 568 219.6 569 220.4 570 221.3 571 222.3 572 223.4 573 224.7 573.9 226 574.5 227 575 228.1 575.8 230 576.2 231 576.7 233 577 234.7 577.1 236 577 237.7 576.8 239 576.1 241 575.6 242 575 243 574 244.5 573 245.8 572.1 247 571.2 248 570.4 249 569.6 250 568.7 251 567.9 252 567 253 566 254.2 565 255.4 564 256.6 563 257.7 562 258.9 561.1 260 560.2 261 559.4 262 558.5 263 557.6 264 556.8 265 555.9 266 554.9 267 554 268 552.9 269 551.7 270 550.4 271 549 271.8 548 272.3 546.3 273 545 273.4 543.1 274 542 274.3 540 274.8 539 275 537 275.5 535 276 534 276.2 532 276.6 530 277 529 277.2 527 277.4 525 277.4 523 277.2 521.7 277 520 276.6 518 276 517 275.7 515 275 514 274.7 512.1 274 511 273.6 509.5 273 508 272.4 507 271.9 505.2 271 504 270.3 503 269.6 502 268.8 501 268 499.9 267 498.9 266 497.9 265 497 264 496 263 495 261.9 494 260.8 493 259.8 492 258.7 491 257.6 490 256.5 489 255.5 488 254.4 487 253.3 486 252.3 485 251.2 484 250.1 483 249.1 482 248 481.1 247 480.1 246 479.2 245 478.3 244 477.3 243 476.4 242 475.5 241 474.5 240 473.6 239 472.7 238 471.7 237 470.8 236 469.8 235 468.9 234 468 233 467 232 466 230.9 465 229.8 464 228.7 463 227.7 462 226.6 461 225.4 460 224.2 459.1 223 458.4 222 457.8 221 457 219.3 456.5 218 456 216.3 455.7 215 455.3 213 455 211.4 454.8 210 454.4 208 454.1 206 454 204.9 453.8 203 453.6 201 453.6 199 453.9 197 454.2 196 454.9 194 455.4 193 456 192 457 190.5 458 189.2 459 188 459.8 187 460.7 186 461.5 185 462.3 184 463.2 183 464 182 465 180.9 466 179.7 467 178.5 468 177.3 469 176.2 470 175 470.8 174 471.7 173 472.5 172 473.4 171 474.2 170 475.1 169 476 167.9 477 166.7 478 165.6 479 164.4 480 163.3 481 162.3 482 161.3 483 160.5 484 159.8 485.4 159Z" fill="#eae6f9"/>
<path d="M488.9 161 490 160.9 491.4 161 493 161.3 495 161.9 496 162.2 498 163 499 163.4 500.3 164 502 164.8 503 165.3 504.2 166 505.8 167 507 167.9 508 168.7 509 169.5 510 170.4 511 171.4 512 172.4 513 173.3 514 174.3 515 175.3 516 176.3 517 177.3 518 178.3 519 179.3 520 180.3 521 181.3 522 182.3 523 183.3 524 184.3 525 185.3 526 186.3 527 187.3 528 188.3 529 189.3 530 190.3 531 191.3 532 192.3 533 193.3 534 194.3 535 195.3 536 196.3 537 197.3 538 198.3 539 199.2 540 200.2 541 201.2 542 202.1 543 203 544.2 204 545.3 205 546.6 206 547.8 207 549 207.9 550 208.7 551 209.5 552 210.2 553 211 554.3 212 555.6 213 556.9 214 558 214.9 559 215.7 560 216.5 561 217.3 562 218 563.2 219 564.5 220 565.7 221 566.8 222 568 223 569 224 569.9 225 570.7 226 571.4 227 572 228.1 572.9 230 573.3 231 573.9 233 574.1 234 574.3 236 574.1 238 573.8 239 573 241 572.5 242 571.8 243 571 244.1 570 245.4 569 246.7 568 247.9 567.1 249 566.3 250 565.4 251 564.6 252 563.7 253 562.9 254 562 255.1 561 256.3 560 257.4 559 258.6 558 259.8 557 260.9 556.1 262 555.2 263 554.3 264 553.4 265 552.4 266 551.3 267 550.1 268 549 268.8 548 269.4 546.8 270 545 270.7 544 271.1 542 271.7 540.7 272 539 272.4 537 272.9 536 273.1 534 273.6 532 274 531 274.2 529 274.5 527 274.7 525 274.7 523 274.5 521 274.2 520 273.9 518 273.3 517 273 515 272.3 514 271.9 512 271.2 511 270.8 509.1 270 508 269.5 507 269 505.4 268 504 267 503 266.2 502 265.3 501 264.4 500 263.4 499 262.3 498 261.3 497 260.2 496 259.1 495 258.1 494 257 493.1 256 492.1 255 491.2 254 490.3 253 489.3 252 488.4 251 487.5 250 486.5 249 485.6 248 484.7 247 483.7 246 482.8 245 481.9 244 480.9 243 480 242 479 240.9 478 239.9 477 238.8 476 237.7 475 236.7 474 235.6 473 234.5 472 233.5 471 232.4 470 231.3 469 230.3 468 229.2 467 228.1 466 227 465 226 464.1 225 463.3 224 462.4 223 461.7 222 461 221 460 219.3 459.4 218 459 216.9 458.4 215 458 213.1 457.8 212 457.4 210 457.1 208 457 207 456.7 205 456.4 203 456.3 201 456.4 199 456.8 197 457.1 196 458 194 458.6 193 459.3 192 460 191 461 189.7 462 188.5 463 187.3 464 186.1 464.9 185 465.8 184 466.6 183 467.5 182 468.3 181 469.2 180 470 179 471 177.8 472 176.7 473 175.5 474 174.3 475 173.1 476 172 476.8 171 477.7 170 478.5 169 479.4 168 480.3 167 481.2 166 482.1 165 483.1 164 484.3 163 485.9 162 487 161.5 488.9 161Z" fill="#e2def6"/>
<path d="M487.9 164 489 163.7 491 163.5 493 163.8 494 164.1 496 164.7 497 165.1 499 165.9 500 166.4 501.2 167 503 168 504 168.6 505 169.3 506 170 507.2 171 508.3 172 509.4 173 510.4 174 511.4 175 512.4 176 513.4 177 514.4 178 515.4 179 516.4 180 517.4 181 518.4 182 519.4 183 520.4 184 521.5 185 522.5 186 523.5 187 524.5 188 525.5 189 526.5 190 527.5 191 528.5 192 529.5 193 530.5 194 531.5 195 532.5 196 533.5 197 534.5 198 535.5 199 536.6 200 537.6 201 538.6 202 539.7 203 540.8 204 541.9 205 543 205.9 544 206.7 545 207.5 546 208.3 547 209.1 548.2 210 549.5 211 550.8 212 552 213 553 213.7 554 214.5 555 215.3 556 216.1 557.2 217 558.5 218 559.7 219 561 220 562 220.8 563 221.6 564 222.5 565 223.3 566 224.2 567 225.2 568 226.3 569 227.6 569.9 229 570.4 230 571 231.5 571.5 233 571.8 235 571.7 237 571.2 239 570.8 240 570 241.5 569 243 568.3 244 567.5 245 566.7 246 565.9 247 565 248.1 564 249.3 563 250.6 562 251.8 561 253 560.1 254 559.3 255 558.5 256 557.6 257 556.8 258 555.9 259 555 260 554 261.1 553 262.3 552 263.3 551 264.3 550 265.2 549 266 547.6 267 546 267.9 545 268.3 543.2 269 542 269.4 540 269.9 539 270.2 537 270.7 535.5 271 534 271.3 532 271.8 530.6 272 529 272.3 527 272.5 525 272.5 523 272.2 521.8 272 520 271.6 518.2 271 517 270.6 515.3 270 514 269.5 512.6 269 511 268.4 510 267.9 508.2 267 507 266.3 506 265.6 505 264.9 503.9 264 502.8 263 501.8 262 500.9 261 499.9 260 499 259 498 258 497 256.9 496 255.8 495 254.8 494 253.7 493 252.6 492 251.5 491 250.5 490 249.4 489 248.3 488 247.3 487 246.2 486 245.1 485 244 484 243 483.1 242 482.2 241 481.2 240 480.3 239 479.3 238 478.4 237 477.5 236 476.5 235 475.6 234 474.7 233 473.7 232 472.8 231 471.9 230 470.9 229 470 228 469 226.9 468 225.9 467 224.8 466 223.7 465 222.5 464 221.2 463.1 220 462.5 219 462 218 461.2 216 460.8 215 460.3 213 460 211.4 459.7 210 459.4 208 459.1 206 459 205 458.8 203 458.7 201 458.9 199 459.1 198 459.7 196 460.2 195 461 193.6 462 192.2 462.9 191 463.7 190 464.5 189 465.4 188 466.2 187 467.1 186 468 184.9 469 183.7 470 182.5 471 181.4 472 180.2 473 179 473.9 178 474.7 177 475.5 176 476.4 175 477.2 174 478.1 173 479 171.9 480 170.8 481 169.6 482 168.5 483 167.5 484 166.5 485 165.6 486 164.9 487.9 164Z" fill="#d7d3f3"/>
<path d="M489.2 166 491 165.8 493 166 494 166.2 496 166.8 497 167.2 498.8 168 500 168.6 501 169.1 502.6 170 504 171 505 171.7 506 172.5 507 173.4 508 174.3 509 175.3 510 176.3 511 177.3 512 178.3 513 179.3 514 180.3 515 181.3 516 182.3 517 183.3 518 184.3 519 185.3 520 186.3 521 187.3 522 188.3 523 189.3 524 190.2 525 191.2 526 192.2 527 193.2 528 194.2 529 195.2 530 196.2 531 197.2 532 198.2 533 199.2 534 200.1 535 201.1 536 202.1 537 203 538 204 539.1 205 540.3 206 541.4 207 542.6 208 543.9 209 545 209.9 546 210.6 547 211.4 548 212.2 549.1 213 550.4 214 551.7 215 553 216 554 216.8 555 217.6 556 218.3 557 219.1 558.1 220 559.3 221 560.6 222 561.8 223 562.9 224 564 224.9 565 225.9 566 227 566.9 228 567.6 229 568.2 230 569 231.9 569.4 233 569.7 235 569.6 237 569 239 568.6 240 568 241 567 242.6 566 243.9 565.2 245 564.4 246 563.6 247 562.8 248 562 249 561 250.2 560 251.4 559 252.6 558 253.8 557 255 556.2 256 555.3 257 554.4 258 553.6 259 552.7 260 551.7 261 550.8 262 549.7 263 548.6 264 547.3 265 546 265.8 545 266.3 543.4 267 542 267.5 540.2 268 539 268.3 537 268.8 536 269 534 269.5 532 269.9 531 270.1 529 270.4 527 270.6 525 270.5 523 270.3 521.5 270 520 269.6 518.1 269 517 268.6 515.2 268 514 267.5 512.6 267 511 266.3 510 265.8 508.5 265 507 264 506 263.2 505 262.4 504 261.5 503 260.5 502 259.5 501 258.4 500 257.4 499 256.3 498 255.2 497 254.1 496 253.1 495 252 494.1 251 493.2 250 492.2 249 491.3 248 490.4 247 489.4 246 488.5 245 487.6 244 486.6 243 485.7 242 484.8 241 483.8 240 482.9 239 482 238 481 237 480 235.9 479 234.8 478 233.8 477 232.7 476 231.6 475 230.6 474 229.5 473 228.4 472 227.3 471 226.3 470 225.2 469 224.1 468 223 467.1 222 466.3 221 465.5 220 464.8 219 464 217.5 463.3 216 462.9 215 462.3 213 462 211.6 461.7 210 461.4 208 461.1 206 460.9 205 460.8 203 460.7 201 461 199 461.2 198 462 196 462.5 195 463.1 194 464 192.8 465 191.5 466 190.2 467 189 467.9 188 468.7 187 469.6 186 470.4 185 471.3 184 472.1 183 473 182 474 180.8 475 179.6 476 178.4 477 177.2 478 176.1 478.9 175 479.8 174 480.6 173 481.5 172 482.4 171 483.3 170 484.3 169 485.4 168 486.8 167 488 166.4 489.2 166Z" fill="#ccc8ef"/>
<path d="M489.7 168 491 167.8 493 167.9 494 168.1 496 168.7 497 169.1 499 170 500 170.5 501 171.1 502.5 172 503.9 173 505 173.9 506 174.8 507 175.7 508 176.7 509 177.7 510 178.6 511 179.6 512 180.6 513 181.6 514 182.6 515 183.6 516 184.6 517 185.6 518 186.6 519 187.6 520 188.6 521 189.6 522 190.6 523 191.6 524 192.6 525 193.6 526 194.6 527 195.6 528 196.6 529 197.6 530 198.5 531 199.5 532 200.5 533 201.5 534 202.4 535 203.4 536 204.3 537 205.3 538 206.2 539 207.1 540.1 208 541.3 209 542.6 210 543.9 211 545 211.8 546 212.6 547 213.3 548 214.1 549.2 215 550.5 216 551.8 217 553 217.9 554 218.7 555 219.5 556 220.3 557 221.1 558.1 222 559.3 223 560.5 224 561.7 225 562.8 226 563.8 227 564.7 228 565.5 229 566.2 230 567 231.7 567.5 233 567.8 235 567.7 237 567.1 239 566.6 240 566 241 565 242.5 564 243.9 563.2 245 562.4 246 561.6 247 560.8 248 560 249 559 250.2 558 251.5 557 252.7 556 253.9 555.1 255 554.2 256 553.4 257 552.5 258 551.6 259 550.6 260 549.6 261 548.5 262 547.3 263 546 263.9 545 264.5 544 265 542 265.8 541 266.2 539 266.7 537.9 267 536 267.4 534 267.9 533 268.1 531 268.5 529 268.7 527 268.9 525 268.9 523 268.6 521 268.2 520 267.9 518 267.3 517 266.9 515 266.2 514 265.8 512.2 265 511 264.4 510 263.9 508.5 263 507.1 262 506 261 505 260.1 504 259.2 503 258.1 502 257.1 501 256 500.1 255 499.1 254 498.2 253 497.3 252 496.4 251 495.4 250 494.5 249 493.6 248 492.6 247 491.7 246 490.8 245 489.9 244 488.9 243 488 242 487 240.9 486 239.9 485 238.8 484 237.7 483 236.6 482 235.6 481 234.5 480 233.4 479 232.4 478 231.3 477 230.2 476 229.2 475 228.1 474 227 473 226 472.1 225 471.2 224 470.3 223 469.4 222 468.5 221 467.7 220 466.9 219 466 217.5 465.2 216 464.8 215 464.1 213 463.8 212 463.4 210 463.1 208 462.9 207 462.7 205 462.5 203 462.5 201 462.8 199 463.1 198 464 196 464.6 195 465.2 194 466 193 467 191.7 468 190.5 469 189.3 470 188.1 470.9 187 471.8 186 472.6 185 473.5 184 474.3 183 475.2 182 476 181 477 179.8 478 178.7 479 177.5 480 176.3 481 175.1 482 174 482.9 173 483.8 172 484.8 171 485.9 170 487 169.2 488 168.6 489.7 168Z" fill="#b8b5e7"/>
<path d="M488 170 489 169.5 491 169.1 493 169.1 495 169.6 496.3 170 498 170.7 499 171.2 500.5 172 502 172.9 503 173.7 504 174.4 505 175.3 506 176.2 507 177.2 508 178.1 509 179.1 510 180.1 511 181.1 512 182.1 513 183.1 514 184.1 515 185.1 516 186.1 517 187.1 518 188.1 519 189.1 520 190.1 521 191.1 522 192.1 523 193.1 524 194.1 525 195.1 526 196.1 527 197 528 198 529 199 530 200 531 201 532.1 202 533.1 203 534.2 204 535.2 205 536.3 206 537.4 207 538.6 208 539.8 209 541 210 542 210.7 543 211.5 544 212.3 545 213 546.3 214 547.7 215 549 216 550 216.8 551 217.5 552 218.3 553 219.1 554.1 220 555.4 221 556.6 222 557.8 223 559 224 560 224.8 561 225.7 562 226.6 563 227.7 564 228.8 564.9 230 565.5 231 566 232.1 566.5 234 566.6 236 566.2 238 565.9 239 565 240.7 564.2 242 563.5 243 562.7 244 562 245 561 246.2 560 247.5 559 248.8 558 250 557.3 251 556.5 252 555.6 253 554.8 254 553.9 255 553 256.1 552 257.2 551 258.3 550 259.4 549 260.3 548 261.3 547 262.1 545.7 263 544 264 543 264.4 541.5 265 540 265.5 538 266 537 266.3 535 266.7 533.5 267 532 267.3 530 267.6 528 267.9 526 267.9 524 267.8 522 267.4 520.5 267 519 266.6 517.4 266 516 265.5 514.7 265 513 264.3 512 263.8 510.5 263 509 262.1 508 261.4 507 260.6 506 259.7 505 258.7 504 257.7 503 256.7 502 255.6 501 254.5 500 253.4 499 252.4 498 251.3 497 250.2 496 249.1 495 248 494 247 493.1 246 492.2 245 491.3 244 490.3 243 489.4 242 488.5 241 487.5 240 486.6 239 485.7 238 484.7 237 483.8 236 482.9 235 481.9 234 481 233 480 231.9 479 230.8 478 229.8 477 228.7 476 227.6 475 226.6 474 225.5 473 224.4 472 223.4 471 222.3 470 221.1 469 220 468.3 219 467.6 218 466.9 217 466 215.2 465.5 214 465 212.2 464.7 211 464.3 209 464 207.1 463.8 206 463.7 204 463.6 202 463.8 200 464 199 464.8 197 465.3 196 466 194.8 467 193.4 468 192.1 468.9 191 469.8 190 470.6 189 471.4 188 472.3 187 473.1 186 474 185 475 183.8 476 182.6 477 181.4 478 180.3 479 179.1 479.9 178 480.8 177 481.6 176 482.5 175 483.4 174 484.4 173 485.4 172 486.5 171 488 170Z" fill="#9c9bdb"/>
<path d="M488.7 171 490 170.5 492 170.2 494 170.5 495.9 171 497 171.4 498.3 172 500 172.9 501 173.5 502 174.2 503 175 504.2 176 505.4 177 506.4 178 507.4 179 508.5 180 509.5 181 510.5 182 511.5 183 512.5 184 513.5 185 514.5 186 515.5 187 516.5 188 517.5 189 518.5 190 519.5 191 520.5 192 521.5 193 522.5 194 523.5 195 524.5 196 525.5 197 526.6 198 527.6 199 528.6 200 529.6 201 530.7 202 531.7 203 532.8 204 533.8 205 534.9 206 536 207 537 207.9 538 208.7 539 209.5 540 210.3 541 211.1 542.2 212 543.5 213 544.9 214 546 214.8 547 215.6 548 216.3 549 217.1 550.2 218 551.5 219 552.7 220 554 221 555 221.8 556 222.6 557 223.5 558 224.3 559 225.2 560 226.1 561 227 562 228 563 229.1 564 230.5 564.8 232 565.2 233 565.5 235 565.4 237 565 238.3 564.2 240 563.7 241 563 242 562 243.4 561 244.8 560.1 246 559.3 247 558.6 248 557.8 249 557 250 556 251.3 555 252.5 554 253.7 553 254.9 552 256 551.1 257 550.2 258 549.2 259 548.1 260 547 261 546 261.7 545 262.4 543.9 263 542 263.9 541 264.2 539 264.8 538 265.1 536 265.6 534 266 533 266.2 531 266.6 529 266.8 527 267 525 266.9 523 266.6 521 266.2 520 265.9 518 265.2 517 264.9 515 264.1 514 263.7 512.6 263 511 262.2 510 261.6 509 260.9 507.9 260 506.7 259 505.7 258 504.7 257 503.7 256 502.8 255 501.8 254 500.9 253 500 252 499 250.9 498 249.8 497 248.7 496 247.6 495 246.6 494 245.5 493 244.4 492 243.3 491 242.2 490 241.2 489 240.1 488 239 487.1 238 486.1 237 485.2 236 484.3 235 483.3 234 482.4 233 481.5 232 480.5 231 479.6 230 478.7 229 477.7 228 476.8 227 475.8 226 474.9 225 474 224 473 222.9 472 221.8 471 220.7 470 219.5 469 218.2 468.2 217 467.6 216 467 214.8 466.3 213 466 212 465.5 210 465.2 208 465 206.9 464.8 205 464.7 203 464.8 201 465 199.7 465.5 198 466 196.9 467 195.2 467.9 194 468.6 193 469.4 192 470.2 191 471.1 190 472 188.9 473 187.7 474 186.5 475 185.4 476 184.2 477 183 477.9 182 478.7 181 479.6 180 480.4 179 481.3 178 482.1 177 483 176 484 174.9 485 173.8 486 172.9 487.1 172 488.7 171Z" fill="#8383cf"/>
<path d="M488.9 172 490 171.5 492 171.2 494 171.4 496 171.9 497 172.3 498.4 173 500 173.9 501 174.5 502 175.2 503 176 504.1 177 505.2 178 506.3 179 507.3 180 508.3 181 509.3 182 510.3 183 511.3 184 512.3 185 513.3 186 514.3 187 515.3 188 516.3 189 517.3 190 518.3 191 519.4 192 520.4 193 521.4 194 522.4 195 523.4 196 524.4 197 525.4 198 526.4 199 527.5 200 528.5 201 529.5 202 530.6 203 531.6 204 532.7 205 533.8 206 534.9 207 536 208 537 208.8 538 209.7 539 210.5 540 211.2 541 212 542.3 213 543.7 214 545 214.9 546 215.7 547 216.4 548 217.2 549.1 218 550.4 219 551.7 220 552.9 221 554 221.9 555 222.7 556 223.5 557 224.4 558 225.2 559 226.1 560 227 561 228 562 229.1 563 230.5 563.9 232 564.3 233 564.7 235 564.5 237 564 238.6 563.3 240 562.8 241 562 242.2 561 243.6 560 245 559.3 246 558.5 247 557.8 248 557 249 556 250.3 555 251.6 554 252.9 553 254 552.2 255 551.3 256 550.3 257 549.4 258 548.3 259 547.2 260 546 260.9 545 261.6 544 262.2 542.4 263 541 263.5 539.5 264 538 264.4 536 264.9 535 265.1 533 265.5 531 265.8 529.9 266 528 266.2 526 266.2 524 266 523 265.9 521 265.4 519.7 265 518 264.4 516.8 264 515 263.3 514 262.8 512.3 262 511 261.3 510 260.6 509 259.9 507.9 259 506.8 258 505.8 257 504.8 256 503.8 255 502.9 254 502 253 501 251.9 500 250.8 499 249.8 498 248.7 497 247.6 496 246.5 495 245.4 494 244.3 493 243.2 492 242.2 491 241.1 490 240 489.1 239 488.2 238 487.2 237 486.3 236 485.4 235 484.4 234 483.5 233 482.6 232 481.6 231 480.7 230 479.8 229 478.8 228 477.9 227 476.9 226 476 225 475 223.9 474 222.8 473 221.7 472 220.6 471 219.5 470 218.2 469.1 217 468.5 216 468 215 467.2 213 466.9 212 466.4 210 466 208 465.8 207 465.6 205 465.5 203 465.6 201 466 199.3 466.5 198 467 196.9 468 195.2 468.9 194 469.7 193 470.5 192 471.3 191 472.1 190 473 189 474 187.8 475 186.6 476 185.4 477 184.2 478 183.1 478.9 182 479.8 181 480.6 180 481.5 179 482.3 178 483.2 177 484.1 176 485.1 175 486.1 174 487.3 173 488.9 172Z" fill="#6e6ec4"/>
<path d="M489 173 491 172.3 493 172.2 495 172.6 496.3 173 498 173.7 499 174.3 500.2 175 501.6 176 502.9 177 504 178 505 178.9 506 179.9 507 180.8 508 181.8 509 182.8 510 183.8 511 184.8 512 185.8 513 186.8 514 187.8 515 188.8 516 189.8 517 190.8 518 191.8 519 192.8 520 193.8 521 194.8 522 195.8 523 196.7 524 197.7 525 198.7 526 199.7 527 200.6 528 201.6 529 202.6 530 203.5 531 204.5 532 205.4 533 206.3 534 207.2 535 208.1 536.1 209 537.3 210 538.5 211 539.8 212 541 212.9 542 213.6 543 214.3 544 215 545.3 216 546.7 217 548 217.9 549 218.7 550 219.5 551 220.3 552 221.1 553.2 222 554.4 223 555.5 224 556.7 225 557.8 226 558.9 227 559.9 228 560.9 229 561.7 230 562.4 231 563 232.1 563.6 234 563.8 236 563.4 238 563 239 562 240.8 561.3 242 560.6 243 559.9 244 559 245.3 558 246.7 557 248 556.3 249 555.6 250 554.8 251 554 252 553 253.3 552 254.4 551 255.6 550 256.6 549 257.6 548 258.5 547 259.4 546 260.2 544.8 261 543 262 542 262.5 540.6 263 539 263.5 537 264 536 264.2 534 264.6 532 265 531 265.1 529 265.4 527 265.5 525 265.4 523 265.1 522 264.9 520 264.3 519 264 517 263.3 516 262.9 514 262 513 261.5 512 261 510.4 260 509.1 259 508 258.1 507 257.2 506 256.2 505 255.1 504 254.1 503 253 502.1 252 501.2 251 500.3 250 499.4 249 498.5 248 497.5 247 496.6 246 495.7 245 494.8 244 493.9 243 493 242 492 241 491 239.9 490 238.8 489 237.7 488 236.7 487 235.6 486 234.5 485 233.4 484 232.4 483 231.3 482 230.2 481 229.1 480 228.1 479 227 478.1 226 477.1 225 476.2 224 475.3 223 474.3 222 473.4 221 472.5 220 471.7 219 470.9 218 470 216.8 469 215.1 468.5 214 468 212.8 467.5 211 467 209 466.8 208 466.6 206 466.4 204 466.4 202 466.7 200 467 199 467.9 197 468.5 196 469.2 195 470 193.9 471 192.6 472 191.4 473 190.2 474 189 474.9 188 475.7 187 476.6 186 477.4 185 478.3 184 479.1 183 480 182 481 180.8 482 179.6 483 178.5 484 177.4 485 176.3 486 175.3 487 174.4 488 173.6 489 173Z" fill="#5e5eb9"/>
<path d="M489.6 174 491 173.5 493 173.4 495 173.7 496 174 498 174.9 499 175.4 500 176 501.3 177 502.6 178 503.7 179 504.7 180 505.8 181 506.8 182 507.8 183 508.8 184 509.8 185 510.8 186 511.8 187 512.8 188 513.8 189 514.8 190 515.8 191 516.8 192 517.8 193 518.9 194 519.9 195 520.9 196 521.9 197 522.9 198 524 199 525 200 526 201 527 201.9 528 202.9 529 203.8 530 204.7 531 205.7 532 206.6 533 207.5 534 208.4 535 209.2 536 210 537.2 211 538.5 212 539.9 213 541 213.8 542 214.5 543 215.2 544.1 216 545.5 217 546.9 218 548 218.8 549 219.5 550 220.3 551 221.1 552.1 222 553.3 223 554.5 224 555.6 225 556.7 226 557.8 227 558.8 228 559.8 229 560.6 230 561.3 231 562 232.2 562.6 234 562.8 236 562.4 238 562 239 561 240.9 560.3 242 559.7 243 559 244 558 245.5 557 247 556.3 248 555.6 249 554.9 250 554 251.2 553 252.5 552 253.6 551 254.8 550 255.8 549 256.8 548 257.8 547 258.6 546 259.4 545 260.1 543.5 261 542 261.7 541 262.1 539 262.8 538 263 536 263.5 534 263.9 533 264.1 531 264.4 529 264.6 527 264.7 525 264.6 523 264.3 521.8 264 520 263.5 518.6 263 517 262.4 516 262 514 261.1 513 260.5 512 260 510.6 259 509.3 258 508.1 257 507.1 256 506.1 255 505.2 254 504.2 253 503.3 252 502.4 251 501.5 250 500.6 249 499.7 248 498.8 247 497.9 246 497 245 496 243.9 495 242.8 494 241.7 493 240.7 492 239.6 491 238.5 490 237.4 489 236.3 488 235.2 487 234.2 486 233.1 485 232 484 231 483.1 230 482.2 229 481.3 228 480.3 227 479.4 226 478.5 225 477.5 224 476.6 223 475.7 222 474.7 221 473.8 220 473 219 472 217.8 471 216.5 470.1 215 469.6 214 469 212.6 468.5 211 468 209 467.8 208 467.6 206 467.4 204 467.5 202 467.8 200 468.1 199 469 197.2 469.7 196 470.4 195 471.2 194 472 192.9 473 191.7 474 190.5 475 189.4 476 188.2 477 187 477.8 186 478.7 185 479.5 184 480.4 183 481.3 182 482.1 181 483 180 484 178.8 485 177.7 486 176.7 487 175.8 488 174.9 489.6 174Z" fill="#4f4fae"/>
<path d="M491.5 175 493 174.9 494.3 175 496 175.5 497.3 176 499 177 500 177.6 501 178.4 502 179.2 503 180.1 504 181 505 182 506 183 507 184 508 185 509 186 510 187 511 188 512 189 513.1 190 514.1 191 515.1 192 516.1 193 517.1 194 518.1 195 519.1 196 520.2 197 521.2 198 522.2 199 523.3 200 524.3 201 525.4 202 526.4 203 527.5 204 528.6 205 529.7 206 530.9 207 532 208 533 208.8 534 209.7 535 210.5 536 211.2 537 212 538.4 213 539.8 214 541 214.8 542 215.5 543 216.1 544.3 217 545.7 218 547 218.9 548 219.6 549 220.4 550 221.2 551 222 552.2 223 553.3 224 554.5 225 555.5 226 556.6 227 557.6 228 558.5 229 559.4 230 560.1 231 561 232.6 561.5 234 561.7 236 561.3 238 560.9 239 560 240.8 559.3 242 558.7 243 558 244.2 557 245.8 556.3 247 555.6 248 554.9 249 554 250.3 553 251.6 552 252.8 551 254 550.1 255 549.1 256 548 257 547 257.9 546 258.7 545 259.4 544 260 542 261 541 261.4 539.1 262 538 262.3 536 262.8 534.6 263 533 263.3 531 263.5 529 263.7 527 263.8 525 263.6 523 263.3 521.8 263 520 262.4 518.7 262 517 261.3 516 260.9 514.2 260 513 259.3 512 258.7 511 258 509.7 257 508.6 256 507.6 255 506.6 254 505.7 253 504.8 252 503.9 251 503 250 502 248.9 501 247.8 500 246.6 499 245.5 498 244.4 497 243.3 496 242.2 495 241.1 494 240 493.1 239 492.2 238 491.3 237 490.4 236 489.5 235 488.5 234 487.6 233 486.7 232 485.8 231 484.8 230 483.9 229 483 228 482 227 481 225.9 480 224.8 479 223.7 478 222.7 477 221.6 476 220.5 475 219.4 474 218.2 473 217 472.3 216 471.6 215 471 213.9 470.2 212 469.8 211 469.3 209 469 207.2 468.9 206 468.7 204 468.8 202 469 200.9 469.6 199 470.1 198 471 196.4 472 195 472.8 194 473.6 193 474.4 192 475.3 191 476.1 190 477 188.9 478 187.8 479 186.6 480 185.4 481 184.2 482 183.1 482.9 182 483.8 181 484.7 180 485.6 179 486.6 178 487.7 177 489 176 490 175.5 491.5 175Z" fill="#474baa"/>
<path d="M489.8 178 491 177.5 493 177.1 495 177.3 496.9 178 498 178.6 499 179.2 500.1 180 501.3 181 502.4 182 503.5 183 504.5 184 505.5 185 506.5 186 507.5 187 508.5 188 509.6 189 510.6 190 511.6 191 512.6 192 513.6 193 514.6 194 515.7 195 516.7 196 517.8 197 518.8 198 519.9 199 520.9 200 522 201 523 201.9 524 202.8 525 203.7 526 204.6 527 205.4 528 206.3 529 207.1 530.1 208 531.3 209 532.6 210 533.9 211 535 211.8 536 212.5 537 213.2 538.2 214 539.7 215 541 215.8 542 216.4 543 217 544.5 218 546 219 547 219.7 548 220.4 549 221.2 550 222 551.2 223 552.3 224 553.4 225 554.5 226 555.4 227 556.4 228 557.3 229 558.1 230 559 231.2 559.9 233 560.3 234 560.5 236 560.1 238 559.8 239 559 240.8 558.4 242 557.9 243 557 244.6 556.2 246 555.6 247 555 248 554 249.4 553 250.8 552.1 252 551.3 253 550.4 254 549.4 255 548.4 256 547.2 257 546 258 545 258.7 544 259.3 542.7 260 541 260.7 540 261.1 538 261.6 536.2 262 535 262.2 533 262.5 531 262.7 529 262.8 527 262.8 525 262.6 523 262.2 522 262 520 261.3 519 260.9 517 260.1 516 259.6 514.8 259 513.1 258 512 257.2 511 256.4 510 255.5 509 254.6 508 253.6 507 252.5 506 251.3 505 250.2 504 249 503.1 248 502.3 247 501.4 246 500.6 245 499.7 244 498.8 243 498 242 497 240.9 496 239.8 495 238.6 494 237.5 493 236.4 492 235.3 491 234.2 490 233.1 489 232 488.1 231 487.2 230 486.3 229 485.4 228 484.4 227 483.5 226 482.6 225 481.6 224 480.7 223 479.8 222 478.8 221 477.9 220 477 219 476 217.8 475 216.6 474 215.3 473.2 214 472.6 213 472 211.6 471.5 210 471 208.1 470.8 207 470.6 205 470.7 203 471 201 471.3 200 472 198.4 472.8 197 473.5 196 474.3 195 475.1 194 476 192.9 477 191.7 478 190.5 479 189.3 480 188.1 481 187 481.8 186 482.7 185 483.5 184 484.4 183 485.3 182 486.2 181 487.2 180 488.4 179 489.8 178Z" fill="#4652ae"/>
<path d="M492.7 181 494 180.9 495 181.1 497 181.8 498 182.4 499 183.1 500.1 184 501.2 185 502.3 186 503.4 187 504.4 188 505.4 189 506.4 190 507.5 191 508.6 192 509.6 193 510.7 194 511.8 195 512.9 196 514 197 515 197.9 516 198.8 517 199.7 518 200.5 519 201.4 520 202.2 521 203 522.2 204 523.4 205 524.7 206 526 207 527 207.8 528 208.5 529 209.2 530 210 531.5 211 532.9 212 534 212.7 535 213.3 536.1 214 537.9 215 539 215.6 540 216.1 541.5 217 543 217.8 544 218.4 545 219 546.4 220 547.8 221 549 221.9 550 222.7 551 223.6 552 224.5 553 225.5 554 226.6 555 227.7 556 228.9 556.9 230 557.5 231 558.1 232 558.9 234 559.1 235 559.1 237 558.9 238 558.4 240 558 241 557.1 243 556.6 244 556 245.2 555 247 554.4 248 553.8 249 553 250.1 552 251.4 551 252.7 550 253.8 549 254.8 548 255.8 547 256.6 546 257.4 545 258.1 543.5 259 542 259.7 541 260.1 539 260.8 538 261 536 261.4 534 261.7 532 261.8 530 261.9 528 261.8 526 261.6 524 261.2 523 261 521 260.3 520 259.9 518 259 517 258.5 516 258 514.4 257 513 256 512 255.2 511 254.2 510 253.2 509 252.2 508 251 507.2 250 506.4 249 505.6 248 504.8 247 504 246 503 244.7 502 243.4 501 242.1 500.1 241 499.3 240 498.5 239 497.7 238 496.9 237 496 235.9 495 234.7 494 233.5 493 232.3 492 231.2 491 230.1 490.1 229 489.2 228 488.3 227 487.4 226 486.5 225 485.5 224 484.6 223 483.7 222 482.8 221 481.9 220 481 219 480 217.9 479 216.8 478 215.6 477 214.3 476.1 213 475.6 212 475 210.8 474.4 209 474 207.4 473.8 206 473.8 204 474 202.4 474.4 201 475 199.5 475.9 198 476.6 197 477.3 196 478.1 195 479 193.9 480 192.7 481 191.5 482 190.3 483 189.1 484 188 484.9 187 485.8 186 486.7 185 487.7 184 488.8 183 490 182.1 491 181.5 492.7 181Z" fill="#4760b6"/>
<path d="M492.1 189 494 188.6 496 189 497 189.5 498 190.1 499.3 191 500.5 192 501.6 193 503 193.8 504 194.4 505 195 506.4 196 507.9 197 509 197.8 510 198.5 511 199.2 512.1 200 513.5 201 514.9 202 516 202.8 517 203.5 518 204.2 519.1 205 520.5 206 522 207 523 207.7 524 208.3 525 209 526.5 210 528 210.9 529 211.5 530 212.1 531.5 213 533 213.8 534 214.3 535.5 215 537 215.7 538 216.1 539.9 217 541 217.5 542 218 543.8 219 545 219.7 546 220.3 547 221 548.3 222 549.5 223 550.6 224 551.7 225 552.6 226 553.5 227 554.4 228 555.1 229 556 230.4 556.9 232 557.3 233 557.9 235 557.9 237 557.7 239 557.2 241 556.8 242 556 244 555.6 245 555 246.1 554 247.8 553.3 249 552.6 250 551.8 251 551 252.1 550 253.2 549 254.2 548 255.2 547 256.1 545.8 257 544.3 258 543 258.7 542 259.2 540 259.9 539 260.2 537 260.7 535 260.9 534 261 532 261.1 530 261 529 261 527 260.7 525 260.3 524 260 522 259.2 521 258.8 519.4 258 518 257.2 517 256.6 516 255.9 514.8 255 513.7 254 512.6 253 511.7 252 510.9 251 510 249.9 509 248.5 508 247.1 507.2 246 506.6 245 505.9 244 505 242.6 504 241 503.3 240 502.7 239 502 237.9 501 236.4 500.1 235 499.4 234 498.7 233 497.9 232 497 230.7 496 229.4 495 228.2 494.1 227 493.2 226 492.4 225 491.6 224 490.7 223 489.9 222 489 220.9 488 219.7 487 218.4 486 217.1 485.2 216 484.5 215 483.9 214 483 212.9 482 211.5 481.1 210 480.6 209 480 207 479.9 206 480 204 480.2 203 480.9 201 481.5 200 482.1 199 483 197.8 484 196.5 485 195.3 486 194.1 487 193 488 192 489 191.1 490 190.2 491 189.5 492.1 189Z" fill="#486ebe"/>
<path d="M500.2 199 502 198.9 503 199.1 505 199.8 506 200.3 507.5 201 509 201.8 510 202.4 511 203 512.7 204 514 204.8 515 205.4 516 206 517.7 207 519 207.8 520 208.4 521 209 522.7 210 524 210.8 525 211.4 526 212 527.7 213 529 213.6 530 214.1 532 215 533 215.3 535 216 536 216.3 538 217 539 217.3 540.5 218 542 218.6 543 219.2 544.5 220 546 220.9 547 221.6 548 222.4 549 223.2 550 224.1 551 225.1 552 226.1 553 227.3 554 228.6 554.9 230 555.5 231 556 232.1 556.7 234 557 236 557 237 557 238 556.7 240 556.2 242 555.9 243 555 245 554.6 246 554 247 553 248.7 552.1 250 551.4 251 550.6 252 549.7 253 548.7 254 547.6 255 546.4 256 545.1 257 544 257.7 543 258.2 541.2 259 540 259.4 538 259.9 537 260.1 535 260.4 533 260.5 531 260.4 529 260.2 527.9 260 526 259.6 524.4 259 523 258.4 522 257.9 520.4 257 519 256 518 255.3 517 254.5 516 253.6 515 252.5 514 251.4 513 250.1 512.2 249 511.6 248 511 247 510 245.2 509.4 244 508.9 243 508 241.2 507.4 240 506.9 239 506 237.4 505.2 236 504.6 235 504 234 503 232.6 502 231.1 501.2 230 500.5 229 499.7 228 499 227 498 225.7 497 224.4 496 223.1 495.2 222 494.4 221 493.7 220 493 219 492 217.5 491.2 216 490.7 215 490 213 489.9 212 490 210.1 490.3 209 491 207.4 491.8 206 492.5 205 493.3 204 494.2 203 495.2 202 496.3 201 497.7 200 499 199.3 500.2 199Z" fill="#4b82c7"/>
<path d="M500.1 203 502 202.7 504 202.9 505 203.1 507 203.7 508 204.1 510 205 511 205.5 512 206 513.7 207 515 207.7 516 208.2 517.3 209 519 209.9 520 210.5 521 211 522.6 212 524 212.9 525 213.4 526.1 214 528 214.9 529 215.3 531 216 532 216.2 534 216.6 535.4 217 537 217.4 538.9 218 540 218.4 541.5 219 543 219.7 544 220.2 545.2 221 546.7 222 548 223 549 223.8 550 224.7 551 225.8 552 226.9 552.9 228 553.6 229 554.2 230 555 231.6 555.6 233 556 234.5 556.3 236 556.3 238 556.1 240 555.9 241 555.4 243 555 244 554.1 246 553.6 247 553 248 552 249.6 551 250.9 550.1 252 549.2 253 548.2 254 547.1 255 546 255.9 545 256.6 544 257.2 542.5 258 541 258.6 539.8 259 538 259.5 536 259.8 534 259.9 532 259.9 530 259.7 528 259.3 526.9 259 525 258.4 524 257.9 522.3 257 521 256.2 520 255.4 519 254.6 518 253.7 517 252.7 516 251.5 515 250.1 514.3 249 513.7 248 513 246.6 512.2 245 511.8 244 511.1 242 510.7 241 510 239.3 509.4 238 508.9 237 508 235.3 507.2 234 506.5 233 505.8 232 505 230.8 504 229.4 503 228 502.3 227 501.6 226 500.9 225 500 223.7 499 222.3 498.1 221 497.4 220 496.8 219 496 217.6 495.2 216 494.8 215 494.2 213 494 212 494 210 494.2 209 495 207 495.7 206 496.6 205 497.8 204 499 203.4 500.1 203Z" fill="#4e96d0"/>
<path d="M500.8 206 502 205.7 504 205.6 506 205.9 507 206.1 509 206.8 510 207.1 512 208 513 208.5 514 209 515.9 210 517 210.5 518 211.1 519.7 212 521 212.7 522 213.3 523.1 214 524.8 215 526 215.6 527 216 529 216.6 531 217 532 217.1 534 217.4 536 217.8 537 218 539 218.6 540.2 219 542 219.7 543 220.2 544.4 221 546 222 547 222.7 548 223.5 549 224.4 550 225.3 551 226.4 552 227.6 553 229 553.6 230 554.1 231 555 233 555.3 234 555.7 236 555.8 238 555.6 240 555.2 242 554.9 243 554.1 245 553.7 246 553 247.3 552 248.9 551.3 250 550.5 251 549.7 252 548.7 253 547.7 254 546.5 255 545.2 256 544 256.8 543 257.3 541.4 258 540 258.5 538 259 537 259.2 535 259.4 533 259.4 531 259.3 529.3 259 528 258.7 526 258 525 257.6 523.8 257 522.1 256 521 255.2 520 254.4 519 253.5 518 252.4 517 251.2 516.1 250 515.5 249 515 248 514 246 513.6 245 513 243.3 512.5 242 512 240 511.7 239 511.1 237 510.7 236 510 234.6 509.1 233 508.4 232 507.7 231 506.9 230 506 228.8 505 227.3 504.1 226 503.4 225 502.7 224 502 222.9 501 221.4 500.1 220 499.5 219 499 218 498 216 497.6 215 497.1 213 497 212 497 210.9 497.5 209 498 208 499 207 500.8 206Z" fill="#59a9d9"/>
<path d="M502.6 210 504 209.4 506 209.2 508 209.4 510 209.9 511 210.2 513 211 514 211.4 515.5 212 517 212.7 518 213.2 519.6 214 521 214.9 522 215.5 523 216.1 524.9 217 526 217.3 528 217.7 530 218 531 218 533 218.2 535 218.4 537 218.8 538 219 540 219.6 541 220 543 220.9 544 221.4 545 222 546.4 223 547.7 224 548.8 225 549.8 226 550.7 227 551.5 228 552.2 229 553 230.4 553.8 232 554.2 233 554.7 235 555 237 555 238 555 239 554.7 241 554.3 243 553.9 244 553.1 246 552.6 247 552 248 551 249.5 550 250.8 549 252 548 253 547 254 546 254.8 545 255.5 544 256.1 542.4 257 541 257.6 539.7 258 538 258.4 536 258.7 534 258.8 532 258.7 530 258.4 528.3 258 527 257.6 525.6 257 524 256.2 523 255.6 522 254.9 520.9 254 519.9 253 518.9 252 518 250.9 517 249.4 516.1 248 515.6 247 515 245.5 514.4 244 514 242.4 513.6 241 513.2 239 513 237.5 512.7 236 512.1 234 511.7 233 511 231.7 510 230.2 509 229 508.2 228 507.5 227 506.8 226 506 224.7 505 223.2 504.3 222 503.7 221 503 219.7 502.2 218 501.7 217 501.1 215 501 213.7 501 213 501.6 211 502.6 210Z" fill="#69bce0"/>
<path d="M506 213 508 212.4 510 212.5 512 212.9 513 213.2 515 213.8 516 214.2 518 215 519 215.5 520 216.2 521.4 217 523 217.8 524 218.2 526 218.6 528 218.8 530 218.8 532 218.8 534 219 535 219.1 537 219.4 539 219.9 540 220.3 541.9 221 543 221.5 544 222.1 545.5 223 546.8 224 548 225 549 226 549.9 227 550.8 228 551.5 229 552.1 230 553 231.8 553.5 233 554 234.9 554.2 236 554.4 238 554.3 240 554 241.6 553.7 243 553 244.9 552.5 246 552 247 551 248.6 550 250 549.2 251 548.3 252 547.3 253 546.2 254 545 254.9 544 255.5 543 256.1 541 257 540 257.3 538 257.8 537 258 535 258.2 533 258.2 531.3 258 530 257.8 528 257.2 527 256.9 525.1 256 524 255.4 523 254.7 522 253.9 520.9 253 519.9 252 519 250.9 518 249.5 517.1 248 516.5 247 516 245.8 515.3 244 515 242.9 514.5 241 514.2 239 514 237.2 513.8 236 513.5 234 513 232 512.6 231 512 229.9 511 228.5 510 227.3 509 226 508.4 225 507.8 224 507 222.5 506.2 221 505.7 220 505 218 504.8 217 504.7 215 505.1 214 506 213Z" fill="#7bcce4"/>
<path d="M509 216 510 215.5 512 215.3 514 215.6 515.7 216 517 216.4 518.2 217 520 218 521 218.5 522.2 219 524 219.4 526 219.5 528 219.5 530 219.5 532 219.5 534 219.6 536 219.8 537 220 539 220.5 540.4 221 542 221.6 543 222.1 544.5 223 545.9 224 547 224.8 548 225.7 549 226.7 550 227.9 550.8 229 551.4 230 552 231 552.9 233 553.2 234 553.6 236 553.8 238 553.7 240 553.4 242 553 243.3 552.4 245 551.9 246 551 247.7 550.2 249 549.4 250 548.6 251 547.7 252 546.6 253 545.4 254 544 254.9 543 255.5 542 256 540 256.8 539 257.1 537 257.5 535 257.6 533 257.6 531 257.4 529.3 257 528 256.6 526.5 256 525 255.2 524 254.6 523 253.9 521.9 253 520.8 252 519.9 251 519 249.8 518 248.3 517.3 247 516.8 246 516.1 244 515.7 243 515.3 241 515 239.2 514.8 238 514.7 236 514.5 234 514.2 232 514 230.8 513.3 229 512.7 228 512 227 511 225.7 510 224.3 509.4 223 509 222 508.3 220 508.1 218 509 216Z" fill="#8ad8e2"/>
<path d="M513.3 218 515 217.9 516 218 518 219 519 219.5 520.5 220 522 220.3 524 220.4 526 220.3 528 220.2 530 220.1 532 220.1 534 220.2 536 220.4 538 220.8 539 221.1 541 221.8 542 222.2 543.4 223 545 224 546 224.7 547 225.5 548 226.5 549 227.6 550 228.8 550.8 230 551.3 231 552 232.4 552.6 234 553 235.9 553.1 237 553.2 239 553 240.9 552.8 242 552.2 244 551.8 245 551 246.7 550.2 248 549.5 249 548.8 250 547.9 251 546.9 252 545.8 253 544.5 254 543 254.9 542 255.4 540.6 256 539 256.5 537 256.9 536 257 534 257.1 532.5 257 531 256.8 529 256.3 528 256 526 255.1 525 254.5 524 253.9 522.8 253 521.7 252 520.7 251 519.9 250 519 248.7 518 247.1 517.5 246 517 244.8 516.4 243 516 241.3 515.7 240 515.5 238 515.3 236 515.2 234 515.2 232 515 230.3 514.8 229 514 227 513.5 226 512.8 225 512 223.9 511.2 222 511.2 220 512 218.6 513.3 218Z" fill="#98e2d8"/>
<path d="M526 221 527 220.9 529 220.7 531 220.6 533 220.6 535 220.8 536.3 221 538 221.4 540 222 541 222.4 542.3 223 544 224 545 224.6 546 225.4 547 226.3 548 227.3 549 228.4 550 229.8 550.7 231 551.2 232 552 234 552.2 235 552.6 237 552.6 239 552.4 241 552 242.8 551.6 244 551 245.5 550.2 247 549.6 248 548.9 249 548 250.1 547 251.2 546 252.1 544.9 253 543.5 254 542 254.8 541 255.3 539 255.9 538 256.2 536 256.5 534 256.5 532 256.4 530 256 529 255.7 527.1 255 526 254.4 525 253.9 523.8 253 522.6 252 521.5 251 520.7 250 519.9 249 519 247.6 518.1 246 517.7 245 517 243 516.7 242 516.3 240 516.1 238 516 236.7 515.9 235 515.9 233 515.9 231 515.9 229 515.7 227 515.4 225 515 223.2 515 222.2 516 221.5 518 221.5 520 221.6 522 221.4 524 221.2 526 221Z" fill="#a2e8c8"/>
<path d="M523.8 222 525 221.8 527 221.4 529 221.2 531 221.2 533 221.2 535 221.4 537 221.7 538.2 222 540 222.6 541 223 543 224 544 224.7 545 225.4 546 226.2 547 227.1 548 228.2 549 229.4 550 231 550.5 232 551 233 551.6 235 552 237 552 238 552 239.2 551.8 241 551.3 243 551 244 550.1 246 549.5 247 548.9 248 548 249.2 547 250.3 546 251.3 545 252.2 544 253 542.3 254 541 254.6 540 255 538 255.5 536 255.9 534 255.9 532 255.8 530 255.4 528.8 255 527 254.3 526 253.7 524.8 253 523.5 252 522.4 251 521.4 250 520.6 249 519.9 248 519 246.4 518.3 245 517.9 244 517.3 242 517 240.5 516.8 239 516.6 237 516.5 235 516.5 233 516.6 231 516.8 229 517 227.3 517.3 226 518 224.5 519 223.6 520.2 223 522 222.4 523.8 222Z" fill="#aaecb1"/>
<path d="M527 222 528 221.9 530 221.7 532 221.7 534 221.8 535.6 222 537 222.3 539 222.9 540 223.3 541.7 224 543 224.8 544 225.4 545 226.2 546 227 547 228 548 229.2 549 230.6 549.8 232 550.3 233 550.9 235 551.2 236 551.3 238 551.3 240 551 241.6 550.6 243 550 244.7 549.3 246 548.8 247 548 248.1 547 249.4 546 250.4 545 251.3 544 252.1 542.7 253 541 253.9 540 254.3 538 254.9 537 255.1 535 255.3 533 255.2 531.3 255 530 254.7 528 254 527 253.5 526 253 524.5 252 523.3 251 522.3 250 521.4 249 520.7 248 520 247 519 245 518.6 244 518 242.2 517.7 241 517.3 239 517.1 237 517 235 517.1 233 517.2 231 517.5 229 518 227.3 518.6 226 519.3 225 520.6 224 522 223.3 523 222.9 525 222.4 527 222Z" fill="#b5ec9d"/>
<path d="M524.9 223 526 222.7 528 222.4 530 222.2 532 222.2 534 222.4 536 222.7 537.2 223 539 223.6 540.1 224 542 225 543 225.6 544 226.3 545 227.1 546 228 547 229.1 548 230.4 549 232 549.5 233 550 234.4 550.4 236 550.6 238 550.5 240 550.1 242 549.8 243 549 245 548.5 246 547.9 247 547 248.2 546 249.3 545 250.3 544 251.2 542.9 252 541.1 253 540 253.5 538.4 254 537 254.3 535 254.5 533 254.4 531 254.2 530 253.9 528 253.2 527 252.7 525.8 252 524.4 251 523.3 250 522.4 249 521.5 248 520.8 247 520 245.5 519.3 244 518.9 243 518.3 241 518 239.5 517.8 238 517.6 236 517.6 234 517.7 232 518 230 518.2 229 519 227 519.6 226 520.6 225 522 224.1 523 223.6 524.9 223Z" fill="#c1ec8a"/>
<path d="M527.5 223 529 222.8 531 222.8 533 222.9 534 223 536 223.4 538 224 539 224.4 540.4 225 542 225.9 543 226.6 544 227.4 545 228.2 546 229.3 547 230.5 548 232 548.5 233 549 234.3 549.5 236 549.7 238 549.6 240 549.2 242 548.9 243 548 245 547.4 246 546.7 247 546 248 545 249.1 544 250 542.7 251 541 252 540 252.5 538.5 253 537 253.4 535 253.6 533 253.5 531 253.2 530 253 528 252.2 527 251.7 525.9 251 524.6 250 523.5 249 522.6 248 521.8 247 521 245.8 520.1 244 519.7 243 519 241 518.8 240 518.4 238 518.2 236 518.1 234 518.2 232 518.6 230 519 228.6 519.8 227 520.6 226 521.8 225 523 224.3 524 223.9 526 223.3 527.5 223Z" fill="#d1ec80"/>
<path d="M525.4 224 527 223.6 529 223.4 531 223.4 533 223.6 535 224 536 224.2 538 224.9 539 225.3 540.3 226 541.9 227 543 227.8 544 228.7 545 229.7 546 230.9 546.7 232 547.3 233 548 234.7 548.3 236 548.6 238 548.5 240 548.1 242 547.7 243 547 244.6 546.2 246 545.4 247 544.6 248 543.5 249 542.3 250 541 250.8 540 251.3 538.1 252 537 252.2 535 252.5 533 252.4 531 252.1 530 251.8 528 251 527 250.4 526 249.8 525 249 523.9 248 523 247 522 245.6 521.1 244 520.6 243 520 241.5 519.5 240 519.1 238 518.9 237 518.7 235 518.7 233 519 231 519.2 230 520 228 520.6 227 521.6 226 523 225 524 224.5 525.4 224Z" fill="#e0ec77"/>
<path d="M524.3 225 526 224.4 528 224.1 530 224 532 224.2 534 224.6 535.5 225 537 225.5 538.1 226 540 227 541 227.7 542 228.4 543 229.3 544 230.3 545 231.5 546 233 546.4 234 547 235.7 547.3 237 547.4 239 547.1 241 546.8 242 546 244 545.5 245 544.8 246 543.9 247 542.9 248 541.6 249 540 250 539 250.4 537 251 536 251.1 534 251.2 532 251 531 250.8 529 250.1 528 249.6 527 249 525.6 248 524.6 247 523.7 246 522.9 245 522 243.5 521.2 242 520.8 241 520.1 239 519.8 238 519.5 236 519.3 234 519.4 232 519.8 230 520.2 229 521 227.6 522 226.4 523 225.7 524.3 225Z" fill="#eee972"/>
<path d="M526.3 225 528 224.7 530 224.7 532 225 533 225.2 535 225.8 536 226.2 537.8 227 539 227.7 540 228.3 541 229 542.1 230 543.1 231 544 232.1 545 233.8 545.5 235 546 236.9 546.1 238 546 240 545.8 241 545.2 243 544.7 244 544 245 543 246.3 542 247.2 541 248 539.2 249 538 249.4 536 249.9 534 250 532 249.7 530 249.1 529 248.7 527.8 248 526.4 247 525.4 246 524.5 245 523.7 244 523 243 522 241.2 521.5 240 521 238.8 520.5 237 520.1 235 520 234 520 232.4 520.2 231 520.9 229 521.5 228 522.4 227 523.7 226 525 225.4 526.3 225Z" fill="#f5db62"/>
<path d="M525.4 226 527 225.6 529 225.5 531 225.7 532.3 226 534 226.5 535.3 227 537 227.7 538 228.3 539.2 229 540.5 230 541.6 231 542.5 232 543.2 233 544 234.4 544.6 236 544.9 238 544.8 240 544.3 242 543.9 243 543 244.4 542 245.6 541 246.5 540 247.2 538.5 248 537 248.5 535 248.8 533 248.7 531 248.2 530 247.8 528.5 247 527.1 246 526.1 245 525.2 244 524.4 243 523.8 242 523 240.7 522.2 239 521.8 238 521.1 236 520.9 235 520.7 233 520.9 231 521.2 230 522 228.5 523 227.4 524 226.6 525.4 226Z" fill="#f4c54d"/>
<path d="M524.4 227 526 226.4 528 226.1 530 226.2 532 226.6 533.5 227 535 227.6 536 228 537.9 229 539 229.7 540 230.5 541 231.4 542 232.5 543 234 543.5 235 544 236.7 544.2 238 544.1 240 543.9 241 543 243 542.4 244 541.6 245 540.5 246 539 246.9 538 247.4 536 247.9 535 248 534 248 532 247.7 530.1 247 529 246.4 528 245.7 527 244.8 526 243.8 525 242.5 524 241 523.5 240 523 239 522.1 237 521.8 236 521.4 234 521.3 232 521.8 230 522.3 229 523.1 228 524.4 227Z" fill="#f4b33f"/>
<path d="M525.9 227 527 226.8 529 226.7 530.9 227 532 227.3 534 227.9 535 228.3 536.6 229 538 229.8 539 230.5 540 231.4 541 232.4 542 233.7 542.7 235 543.1 236 543.4 238 543.3 240 543 241.2 542.2 243 541.5 244 540.5 245 539.1 246 538 246.6 536.6 247 535 247.2 533 247.1 532 246.9 530 246.1 529 245.5 528 244.7 527 243.8 526 242.6 525 241.2 524.3 240 523.7 239 523 237.3 522.5 236 522 234 521.9 233 522 231.5 522.4 230 523 229 524 228 525.9 227Z" fill="#f2a034"/>
<path d="M526.6 228 528 227.8 530 227.9 531 228.1 533 228.6 534.2 229 536 229.8 537 230.4 538 231 539.2 232 540.2 233 541 234.1 541.9 236 542.2 237 542.3 239 542 240.7 541.5 242 540.8 243 540 244 538.6 245 537 245.8 536 246 534 246.1 533 246 531 245.3 530 244.8 528.9 244 527.8 243 526.9 242 526 240.8 525 239.1 524.5 238 524 236.9 523.4 235 523.1 233 523.3 231 524 229.6 525 228.7 526.6 228Z" fill="#f18c2c"/>
<path d="M525.7 230 527 229.4 529 229.1 531 229.2 533 229.7 534 230 536 230.9 537 231.5 538 232.3 539 233.2 540 234.5 540.8 236 541.1 237 541.2 239 541 240.1 540.2 242 539.3 243 538.1 244 537 244.5 535 245 533 244.8 531 244.1 530 243.5 529 242.7 528 241.7 527 240.4 526.2 239 525.7 238 525 236.2 524.7 235 524.4 233 524.9 231 525.7 230Z" fill="#ec7826"/>
<path d="M527.5 231 529 230.5 531 230.5 533 230.9 534 231.2 535.7 232 537 232.8 538 233.7 539 235 539.5 236 540 237.9 540 238.9 539.8 240 539 241.5 538 242.6 537 243.2 535 243.7 533 243.6 531.5 243 530 242.1 529 241.1 528.1 240 527.5 239 526.9 238 526.2 236 526 234.4 526 233.7 526.5 232 527.5 231Z" fill="#e56423"/>
<path d="M530 232 531 231.9 532.2 232 534 232.5 535.1 233 536.5 234 537.5 235 538.1 236 538.7 238 538.3 240 537.6 241 536.3 242 535 242.4 533 242.2 532 241.9 530.7 241 529.6 240 528.9 239 528 237.2 527.7 236 527.7 234 528.3 233 530 232Z" fill="#da4b22"/></g>
<path d="M459.4 34 L461.4 35 L463 39.4 L466.4 43.1 L471.4 48.1 L476.4 54.1 L481.4 61.1 L486.5 68.1 L493.5 76.2 L501.5 84.2 L509.5 90.8 L517.6 95.2 L527.6 98.8 L536.3 101.2 L540.3 105.2 L546.3 108.2 L554.3 108.2 L560.4 104.2 L565.4 99.1 L569.4 93.1 L572.4 88.1 L573.4 91.1 L571.4 97.1 L568.4 103.2 L565.4 109.2 L564.4 115 L567.4 121 L571.4 125 L573.4 130.1 L575.4 135.1 L580.5 136.8 L584.7 134.8 L588.2 132.4 L590.8 130.9 L590 133 L586.2 136.7 L582.7 139.8 L580 141.8 L575.4 144.1 L570.4 146.1 L565.4 148.1 L561.4 150.1 L558.4 153.1 L554.5 153 L550.4 153.1 L545.3 152.5 L541.3 151.1 L536.3 152.1 L530.3 155.1 L524.3 159.1 L519.3 163.2 L515.3 167.2 L511.2 172 L508.2 177 L506.7 182 L505.9 188 L505.3 195 L503.7 201.2 L502.3 199.1 L496.3 195.1 L488.3 191.1 L478.3 187.1 L468.5 180.1 L461.5 174.1 L455.5 170.1 L449.4 168.5 L442.4 169.7 L435.4 173.1 L430.4 176.1 L426.4 180.1 L424.4 181.1 L421.4 176.1 L417.4 172.1 L412.3 169.7 L406.3 171.1 L402.3 176.1 L401.3 182.1 L404.3 187.1 L409.3 191.1 L416.4 193.1 L422.4 197.1 L427.4 201.2 L431.4 205.8 L426.4 207.2 L421.4 207.4 L417.2 207.8 L414.4 207 L412.8 209.8 L409.2 210.4 L406 211.4 L405 217.2 L401.2 220.4 L396.3 224.2 L391.3 222.2 L389.3 216.2 L391.3 209.2 L395.3 203.2 L394.3 197.1 L390.3 191.1 L385.3 187.1 L383.9 182.1 L386.3 176.1 L386.3 169.1 L387.3 165.2 L394.3 163.2 L398.3 158.8 L401.3 160.2 L405.3 155.2 L410.7 150.2 L408.3 145.2 L404.7 139.1 L405.3 135.1 L409.3 133.1 L415.3 137.1 L420.4 141.5 L425.4 140.1 L428.4 142.1 L433.4 143.5 L438.4 139.1 L441.4 132.1 L439.4 125.1 L438.8 117.1 L442.4 113.1 L447.4 109 L449.4 103 L449.9 95 L450.3 91.2 L453 85.2 L454.4 75.2 L453.8 65.1 L451.4 57.1 L448.7 50.1 L448.3 46.1 L449.9 42.1 L450.9 37.4 L452.4 40 L455.8 39 L458 36ZM385.3 294 L385.3 288.2 L387.3 281.2 L387.3 273.2 L384.7 263.1 L388.3 256.1 L394.3 253.1 L398.3 249.1 L400.3 241.1 L399.3 236.5 L401.9 233.3 L404.2 234.6 L406.2 232.7 L410 234.6 L411.3 237.1 L411.9 240.8 L412.8 245.8 L413.8 249.6 L415.6 251.1 L417.8 249.8 L419 246.5 L420.6 243 L422.3 245.6 L424.4 248.6 L426.9 249.8 L429.4 249.6 L431.9 247.1 L433.8 242.1 L434.4 235.8 L433.8 231 L431.9 230.3 L428.8 231.5 L425.7 234.1 L421.9 235.9 L418.1 237.2 L416.9 235.8 L417.3 230.8 L419 224.5 L421.9 219.5 L427.5 222 L432.6 225.8 L436.9 227.7 L440.7 226.4 L439.4 232 L438.2 240.8 L437.8 249.6 L438.8 257.1 L443.4 264.1 L448.5 270.2 L452.5 277.2 L454.5 284.2 L454.5 294ZM613.8 82.1 L612.2 85.6 L609 87.2 L605.6 89.9 L602.2 92 L598.7 94.8 L595.3 98.2 L591.8 101.6 L589.6 105 L586.8 107.8 L583.8 107.8 L582.5 109.8 L581.4 113 L580.4 116 L578.5 114 L576.4 111.6 L577.7 108.6 L581.7 105.2 L585.8 101 L588.6 96.2 L591.3 91.4 L594.1 86.5 L596.2 82.4 L598.4 79.9 L600.5 79.2 L602.8 80.8 L606.7 82.9 L610.8 82.9ZM366.9 217 L368.1 217 L368.1 218.1 L366.9 218.1ZM382.1 224.9 L383.1 224.9 L383.1 225.8 L382.1 225.8ZM598.7 126.5 L600.7 124.8 L602.5 125.2 L601.2 127.3 L599.2 127.8ZM606.5 120.6 L608.4 119.4 L609.4 120.2 L607.5 121.3ZM428.2 36 L429.9 36 L431.3 44.5 L430.3 44.9ZM615.7 111.8 L619.2 109.3 L624.2 107.2 L627 110 L623.7 112.6 L618 115.2ZM624.4 78 L625.7 74.5 L627.7 73.5 L628.7 77 L627.2 80ZM371.2 187 L373.2 186 L375.2 186.5 L374.7 190 L373.2 192.5 L371.5 191.5ZM464.2 12.3 L465.1 12.6 L465 15.2 L464.4 15.6ZM438.8 84 L439.8 84 L439.8 84.9 L438.8 84.9ZM441.4 83.8 L442.5 83.8 L442.5 84.7 L441.4 84.7Z" fill="none" stroke="#9c2ba0" stroke-width="0.85" stroke-linejoin="round"/>
<circle cx="436.7" cy="49.5" r="3.0" fill="none" stroke="#9c2ba0" stroke-width="0.85"/>
<ellipse cx="471.8" cy="51.4" rx="0.6" ry="1.0" fill="none" stroke="#9c2ba0" stroke-width="0.7"/>
<ellipse cx="539.9" cy="122.4" rx="2.0" ry="1.8" fill="none" stroke="#9c2ba0" stroke-width="0.7"/>
<ellipse cx="547" cy="124" rx="0.9" ry="0.9" fill="none" stroke="#9c2ba0" stroke-width="0.7"/>
<ellipse cx="532.3" cy="130" rx="0.7" ry="0.6" fill="none" stroke="#9c2ba0" stroke-width="0.7"/>
<ellipse cx="437.4" cy="163.2" rx="2.0" ry="1.4" fill="none" stroke="#9c2ba0" stroke-width="0.7"/>
<ellipse cx="421" cy="169.6" rx="1.5" ry="1.5" fill="none" stroke="#9c2ba0" stroke-width="0.7"/>
<ellipse cx="420" cy="269.2" rx="1.4" ry="1.4" fill="none" stroke="#9c2ba0" stroke-width="0.7"/>
<ellipse cx="436.4" cy="254.1" rx="0.7" ry="2.2" fill="none" stroke="#9c2ba0" stroke-width="0.7"/>
<ellipse cx="468.8" cy="89.6" rx="0.8" ry="1.3" fill="none" stroke="#9c2ba0" stroke-width="0.7"/>
<ellipse cx="558.7" cy="149.8" rx="1.3" ry="1.2" fill="none" stroke="#9c2ba0" stroke-width="0.7"/>
<ellipse cx="534.2" cy="103" rx="1.2" ry="1.6" fill="none" stroke="#9c2ba0" stroke-width="0.7"/>
<path d="M518.2 96.3 L522.2 97.6 L527.2 99 L526.7 100 L521.2 98.7 L517.7 97.3Z" fill="none" stroke="#9c2ba0" stroke-width="0.7"/>
<path d="M501.6 175C503 173.9 504.9 173 506.6 172.5C508.3 172 510.2 171.6 511.6 172C513 172.4 513.4 174.6 514.9 175C516.4 175.4 520.1 173.9 520.8 174.6C521.5 175.3 519.6 177.8 519.1 179.1C518.6 180.4 517.5 181.2 517.9 182.5C518.3 183.8 520.3 185.2 521.6 186.6C522.9 188 524.3 189.7 525.8 190.8C527.3 191.9 529.1 193 530.8 193.3C532.4 193.7 534.5 192.5 535.7 192.9C536.9 193.3 537.7 194.4 538.2 195.8C538.7 197.2 538.7 199.7 538.6 201.6C538.5 203.5 538.1 205.6 537.4 207.4C536.6 209.2 535.4 211.4 534.1 212.4C532.9 213.4 531.1 213.5 529.9 213.2C528.6 212.9 527.5 211.9 526.6 210.7C525.7 209.5 525.1 207.3 524.6 205.8C524.1 204.3 524.4 202.6 523.6 201.6C522.8 200.6 521.4 200 519.9 199.9C518.4 199.8 516.3 200.9 514.9 200.8C513.5 200.7 512.3 200.1 511.6 199.1C510.9 198.1 511.2 196.4 510.8 194.9C510.4 193.4 510.1 191.4 509.1 189.9C508.1 188.4 506.5 187 505 185.8C503.5 184.6 501.1 183.6 500 182.5C498.9 181.4 498 180.3 498.3 179.1C498.6 177.8 500.2 176.1 501.6 175Z" fill="#dcdcdc" stroke="#000" stroke-width="1.7" stroke-linejoin="round"/>
<ellipse cx="508" cy="178.3" rx="4" ry="3.5" fill="#dedede" stroke="#000" stroke-width="1.4"/>
<ellipse cx="516.6" cy="191.6" rx="3.5" ry="3.1" fill="#dedede" stroke="#000" stroke-width="1.4" transform="rotate(-20 516.6 191.6)"/>
<path d="M527.2 197.7C527.8 197 529 196.7 530 196.6C531 196.5 532.4 196.3 533.2 196.9C534 197.5 534.4 198.7 534.6 200C534.8 201.3 534.6 203.1 534.3 204.5C534 205.9 533.3 207.4 532.7 208.5C532.1 209.6 531.3 210.8 530.6 210.9C529.9 211 529.1 210.2 528.5 209.2C527.9 208.1 527.3 206 527 204.6C526.7 203.2 526.5 201.8 526.5 200.6C526.5 199.4 526.6 198.4 527.2 197.7Z" fill="#dcdcdc" stroke="#000" stroke-width="1.3"/>
<path d="M530.4 199.2Q528.6 203.5 529.6 208.3" fill="none" stroke="#000" stroke-width="1.1"/>
<ellipse cx="527.4" cy="158.3" rx="1.7" ry="3.1" fill="#dcdcdc" stroke="#000" stroke-width="1.5" transform="rotate(10 527.4 158.3)"/>
<path d="M526.6 210.7L523.5 213.5" stroke="#000" stroke-width="1.3" fill="none"/>
<path d="M510.8 159.2Q515 157.6 519.1 158.3M506.6 166.6Q506.5 169.7 508.3 174.1M526.6 163.3Q528 165.8 527.9 169.1M514.9 177.5Q518.2 177.2 520.8 175.8M549.1 177.5Q555.7 174 561.5 175.8M539.1 189.1Q541.2 185.8 544.1 183.3M529.9 199.9Q532 197.8 534.1 195.8M534.9 207.4Q537 205.2 539.1 203.3M519.9 212.4Q522.4 209.9 524.9 207.4M566.5 182.5Q569.2 185.8 570.7 189.9M574 197.4Q575.4 200.8 575.7 204.9M570.2 217.6Q572.5 215 574 212.4M547.4 200.8Q548.5 204.5 549.1 208.2M490 214.2Q492.7 213.1 496.6 213.3M505 216.6Q508.3 216.2 511.6 215.3M490 223.3Q490 227.6 490.8 231.6M492.5 240Q493.5 243.1 495 245.8M497.5 253.3Q499.6 255.8 502.5 257.4M510 260Q513.7 261 517.4 260.7M525.8 257.4Q528.9 256.1 531.6 254.1M538.2 250.8Q541.2 248.9 544.1 246.6M546.6 234.1Q548.4 229.6 549.1 225M549.1 221.6Q549.9 217.6 549.9 213.3M514.1 238.3Q515.8 240.8 518.3 242.4M524.9 242.4Q529.5 241.9 533.3 239.1M538.2 235Q541.2 232.7 544.1 230M564.9 225Q563.4 227.1 561.5 229.1" fill="none" stroke="#e8308c" stroke-width="1.8"/>
<text transform="translate(524.3 219.4) rotate(-46)" font-size="12.3" text-anchor="middle" fill="#000" stroke="#000" stroke-width="0.3">2m</text>
<text transform="translate(521.3 232.5) rotate(-50)" font-size="12.8" text-anchor="middle" fill="#e8308c" stroke="#e8308c" stroke-width="0.3">2m</text>
<text transform="translate(556.2 243) rotate(-45)" font-size="12.6" text-anchor="middle" fill="#e8308c" stroke="#e8308c" stroke-width="0.3">1m</text>
<path d="M541.8 294C541.9 293.5 541.9 293.1 542.2 291C542.6 288.9 542.9 285 543.9 281.2C544.9 277.4 546.4 272.7 548.1 268.4C549.8 264.1 551.8 259.7 554.1 255.6C556.4 251.5 559.1 247.1 561.8 243.7C564.5 240.3 567.5 237.8 570.3 235.2C573.1 232.6 576 230.3 578.8 228C581.6 225.7 583.8 224.1 587.3 221.6C590.8 219.1 595.1 216.6 600.1 213C605.1 209.4 612.8 203.5 617.1 200.3C621.3 197.1 622.9 196.2 625.6 193.9C628.3 191.6 631.4 188.2 633.3 186.2C635.2 184.2 636.6 182.7 637.2 182" fill="none" stroke="#111" stroke-width="1.05"/>
<path d="M580.3 260.1V254.6H622.4V260.1" fill="none" stroke="#111" stroke-width="0.85"/><text x="603.4" y="275" font-size="13.6" text-anchor="middle">100 km</text>
</g>
<path d="M365.7 8.5 A2622.3 2622.3 0 0 0 624.5 8.5 L638.3 287.9 A2902 2902 0 0 1 351.9 287.9 Z" fill="none" stroke="#000" stroke-width="1.5" stroke-linejoin="miter"/>
<path d="M365.7 8.5 L365.9 3.9M351.9 287.9 L351.7 292.5M381.9 9.3 L382.1 4.7M369.8 288.7 L369.6 293.3M398 9.9 L398.4 0.1M387.7 289.5 L387.3 299.3M414.2 10.5 L414.4 5.9M405.6 290.1 L405.4 294.7M430.4 10.9 L430.5 6.3M423.5 290.6 L423.4 295.2M446.6 11.3 L446.7 6.7M441.4 291 L441.3 295.6M462.7 11.5 L462.9 1.7M459.3 291.2 L459.2 301M478.9 11.7 L478.9 7.1M477.2 291.4 L477.2 296M495.1 11.7 L495.1 7.1M495.1 291.4 L495.1 296M511.3 11.7 L511.3 7.1M513 291.4 L513 296M527.5 11.5 L527.3 1.7M530.9 291.2 L531 301M543.6 11.3 L543.5 6.7M548.8 291 L548.9 295.6M559.8 10.9 L559.7 6.3M566.7 290.6 L566.8 295.2M576 10.5 L575.8 5.9M584.6 290.1 L584.8 294.7M592.2 9.9 L591.8 0.1M602.5 289.5 L602.9 299.3M608.3 9.3 L608.1 4.7M620.4 288.7 L620.6 293.3M624.5 8.5 L624.3 3.9M638.3 287.9 L638.5 292.5M351.9 287.9 L342.1 287.4M638.3 287.9 L648.1 287.4M353.1 264.6 L348.5 264.4M637.1 264.6 L641.7 264.4M354.2 241.3 L349.6 241M636 241.3 L640.6 241M355.4 218 L350.8 217.7M634.8 218 L639.4 217.7M356.5 194.7 L346.7 194.2M633.7 194.7 L643.5 194.2M357.7 171.4 L353.1 171.1M632.5 171.4 L637.1 171.1M358.8 148.1 L354.2 147.9M631.4 148.1 L636 147.9M360 124.8 L355.4 124.6M630.2 124.8 L634.8 124.6M361.1 101.6 L351.3 101.1M629.1 101.6 L638.9 101.1M362.3 78.3 L357.7 78.1M627.9 78.3 L632.5 78.1M363.4 55 L358.8 54.8M626.8 55 L631.4 54.8M364.6 31.8 L360 31.6M625.6 31.8 L630.2 31.6M365.7 8.5 L355.9 8M624.5 8.5 L634.3 8" fill="none" stroke="#000" stroke-width="0.9"/>
<text x="45.2" y="11.7" font-size="14.1" text-anchor="end">46°N</text>
<text x="640.5" y="11.9" font-size="14.1">46°N</text>
<text x="40.6" y="104.9" font-size="14.1" text-anchor="end">44°N</text>
<text x="645.1" y="105.3" font-size="14.1">44°N</text>
<text x="36" y="198.1" font-size="14.1" text-anchor="end">42°N</text>
<text x="649.7" y="198.7" font-size="14.1">42°N</text>
<text x="31.4" y="291.5" font-size="14.1" text-anchor="end">40°N</text>
<text x="654.3" y="292.2" font-size="14.1">40°N</text>
<text x="83.1" y="314.7" font-size="14.1" text-anchor="middle">140°E</text>
<text x="154.7" y="316.4" font-size="14.1" text-anchor="middle">142°E</text>
<text x="226.3" y="316.4" font-size="14.1" text-anchor="middle">144°E</text>
<text x="297.9" y="314.7" font-size="14.1" text-anchor="middle">146°E</text>
<text x="389.9" y="314.7" font-size="14.1" text-anchor="middle">140°E</text>
<text x="461.5" y="316.4" font-size="14.1" text-anchor="middle">142°E</text>
<text x="533.1" y="316.4" font-size="14.1" text-anchor="middle">144°E</text>
<text x="604.7" y="314.7" font-size="14.1" text-anchor="middle">146°E</text>
<text x="66.3" y="32.4" font-size="20.5" font-weight="bold">(a)</text>
<text x="372.3" y="32.4" font-size="20.5" font-weight="bold">(b)</text>
<rect x="45.4" y="348.0" width="266.7" height="9.7" fill="url(#g1)"/>
<path d="M312.1 348.0 L324 352.9 L312.1 357.7 Z" fill="#000" stroke="#000" stroke-width="1"/>
<rect x="45.4" y="348.0" width="266.7" height="9.7" fill="none" stroke="#000" stroke-width="1.1"/>
<text x="46.8" y="378.2" font-size="11.4" letter-spacing="0.3" text-anchor="middle">0</text>
<text x="100.1" y="378.2" font-size="11.4" letter-spacing="0.3" text-anchor="middle">1000</text>
<text x="153.5" y="378.2" font-size="11.4" letter-spacing="0.3" text-anchor="middle">2000</text>
<text x="206.8" y="378.2" font-size="11.4" letter-spacing="0.3" text-anchor="middle">3000</text>
<text x="260.2" y="378.2" font-size="11.4" letter-spacing="0.3" text-anchor="middle">4000</text>
<text x="313.5" y="378.2" font-size="11.4" letter-spacing="0.3" text-anchor="middle">5000</text>
<path d="M45.4 348.0 V364.8M98.7 348.0 V364.8M152.1 348.0 V364.8M205.4 348.0 V364.8M258.8 348.0 V364.8M312.1 348.0 V364.8" stroke="#000" stroke-width="1" fill="none"/>
<text x="186.8" y="396" font-size="11.8" text-anchor="middle">Cumulative number of VLFEs (2005-2018)</text>
<rect x="351.9" y="348.0" width="266.7" height="9.7" fill="url(#g2)"/>
<path d="M618.6 348.0 L629.5 352.9 L618.6 357.7 Z" fill="#6f2222" stroke="#000" stroke-width="1"/>
<rect x="351.9" y="348.0" width="266.7" height="9.7" fill="none" stroke="#000" stroke-width="1.1"/>
<text x="352.7" y="378.2" font-size="11.4" letter-spacing="0.2" text-anchor="middle">0.0</text>
<text x="397.1" y="378.2" font-size="11.4" letter-spacing="0.2" text-anchor="middle">0.1</text>
<text x="441.6" y="378.2" font-size="11.4" letter-spacing="0.2" text-anchor="middle">0.2</text>
<text x="486.1" y="378.2" font-size="11.4" letter-spacing="0.2" text-anchor="middle">0.3</text>
<text x="530.5" y="378.2" font-size="11.4" letter-spacing="0.2" text-anchor="middle">0.4</text>
<text x="574.9" y="378.2" font-size="11.4" letter-spacing="0.2" text-anchor="middle">0.5</text>
<text x="619.4" y="378.2" font-size="11.4" letter-spacing="0.2" text-anchor="middle">0.6</text>
<path d="M351.9 348.0 V364.8M396.3 348.0 V364.8M440.8 348.0 V364.8M485.2 348.0 V364.8M529.7 348.0 V364.8M574.1 348.0 V364.8M618.6 348.0 V364.8" stroke="#000" stroke-width="1" fill="none"/>
<text x="492.2" y="396" font-size="11.8" text-anchor="middle">Normalized fault area frequency</text>
</svg>
</body></html>
